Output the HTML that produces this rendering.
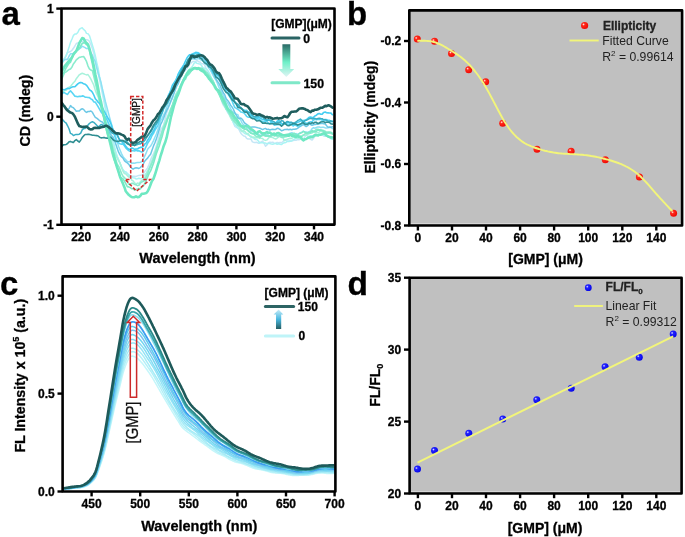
<!DOCTYPE html><html><head><meta charset="utf-8"><style>html,body{margin:0;padding:0;background:#fff;}svg{display:block;filter:blur(0.35px);}text{font-family:"Liberation Sans",sans-serif;stroke-width:0.3px;}</style></head><body>
<svg width="685" height="537" viewBox="0 0 685 537">
<defs>
<radialGradient id="rdot" cx="0.35" cy="0.35" r="0.65"><stop offset="0" stop-color="#ffe8e8"/><stop offset="0.3" stop-color="#ff2a1a"/><stop offset="1" stop-color="#ee0a05"/></radialGradient>
<radialGradient id="bdot" cx="0.35" cy="0.35" r="0.65"><stop offset="0" stop-color="#e8e8ff"/><stop offset="0.3" stop-color="#2222ff"/><stop offset="1" stop-color="#0808e8"/></radialGradient>
<linearGradient id="garrA" x1="0" y1="0" x2="0" y2="1"><stop offset="0" stop-color="#2a6a66"/><stop offset="0.55" stop-color="#6ff0c8"/><stop offset="1" stop-color="#e0f4f4"/></linearGradient>
<linearGradient id="garrC" x1="0" y1="1" x2="0" y2="0"><stop offset="0" stop-color="#245c60"/><stop offset="0.5" stop-color="#4ab8e0"/><stop offset="1" stop-color="#c8ecf8"/></linearGradient>
</defs>
<clipPath id="clipA"><rect x="61.5" y="8.5" width="273" height="216.1"/></clipPath>
<g clip-path="url(#clipA)" fill="none" stroke-linejoin="round" stroke-linecap="round">
<path d="M61.8 60.7 L63.3 59.3 L64.7 58.2 L66.2 55.8 L67.6 52.5 L69.1 52 L70.5 51.5 L72 50.2 L73.4 48.3 L74.9 46 L76.3 43.5 L77.8 42.9 L79.3 42.5 L80.7 41.6 L82.2 41.6 L83.6 41.2 L85.1 39.8 L86.5 39.7 L88 40 L89.4 41.3 L90.9 44.5 L92.4 48.8 L93.8 53.4 L95.3 58.8 L96.7 65.3 L98.2 72.9 L99.6 80.3 L101.1 87.2 L102.5 94.3 L104 101.9 L105.4 109.6 L106.9 117 L108.4 124 L109.8 130.3 L111.3 136.9 L112.7 142.3 L114.2 147.7 L115.6 152.2 L117.1 156.3 L118.5 159.7 L120 163.2 L121.5 167.3 L122.9 170 L124.4 171.6 L125.8 172.5 L127.3 174.8 L128.7 176.1 L130.2 177.1 L131.6 176.3 L133.1 176.2 L134.6 176.2 L136 176.5 L137.5 175.9 L138.9 175.4 L140.4 175.2 L141.8 175.1 L143.3 173.9 L144.7 171.5 L146.2 169.7 L147.6 167.9 L149.1 164.2 L150.6 159.9 L152 156.5 L153.5 153.8 L154.9 150.5 L156.4 145.6 L157.8 140.8 L159.3 135.1 L160.7 129.7 L162.2 127.5 L163.6 125.2 L165.1 119.1 L166.6 113.1 L168 109.4 L169.5 105.3 L170.9 101.3 L172.4 98.6 L173.8 94 L175.3 90 L176.7 86.5 L178.2 83.7 L179.7 79.8 L181.1 76.9 L182.6 73.6 L184 71.7 L185.5 70.1 L186.9 68.5 L188.4 66.4 L189.8 63.9 L191.3 62.8 L192.8 61.5 L194.2 61.5 L195.7 61.5 L197.1 60.4 L198.6 61.8 L200 62.1 L201.5 63.7 L202.9 63.7 L204.4 64.2 L205.8 67.9 L207.3 71.6 L208.8 73.6 L210.2 76.5 L211.7 78.7 L213.1 81.4 L214.6 84.6 L216 87.9 L217.5 89.7 L218.9 90.8 L220.4 95.8 L221.8 101.7 L223.3 105.2 L224.8 107.4 L226.2 109.3 L227.7 112.8 L229.1 114.3 L230.6 116.7 L232 118.1 L233.5 123.2 L234.9 126.5 L236.4 127.5 L237.9 127.7 L239.3 130.2 L240.8 133.2 L242.2 134.7 L243.7 136 L245.1 136.2 L246.6 138.3 L248 139 L249.5 139 L250.9 139 L252.4 141.9 L253.9 142.4 L255.3 142.6 L256.8 142.3 L258.2 143.2 L259.7 142.9 L261.1 142 L262.6 141.1 L264 143.1 L265.5 146.2 L267 144.9 L268.4 142.7 L269.9 142.3 L271.3 142.5 L272.8 142.2 L274.2 143.1 L275.7 143.5 L277.1 142.4 L278.6 142.7 L280.1 142.5 L281.5 142.8 L283 141.5 L284.4 139.9 L285.9 140.5 L287.3 141 L288.8 141.1 L290.2 140.5 L291.7 141.1 L293.1 140.4 L294.6 140.2 L296.1 140.2 L297.5 139.6 L299 139.8 L300.4 138.9 L301.9 139.6 L303.3 139.2 L304.8 136.9 L306.2 134.6 L307.7 136.4 L309.1 138.2 L310.6 139.3 L312.1 140.1 L313.5 138.2 L315 136.1 L316.4 135.6 L317.9 134.9 L319.3 135.1 L320.8 135.3 L322.2 134.9 L323.7 136 L325.2 136.3 L326.6 136.2 L328.1 137.2 L329.5 136.8 L331 137.5 L332.4 137" stroke="#c4e6f6" stroke-width="1.5"/>
<path d="M61.8 62.4 L63.3 61.7 L64.7 58.3 L66.2 55.2 L67.6 51.4 L69.1 47 L70.5 42.4 L72 39 L73.4 35.4 L74.9 34.1 L76.3 34 L77.8 32.5 L79.3 29.4 L80.7 28.4 L82.2 27.8 L83.6 29.4 L85.1 30.7 L86.5 33.4 L88 33.8 L89.4 35.6 L90.9 40.3 L92.4 45.3 L93.8 49.8 L95.3 55.7 L96.7 62.3 L98.2 68.6 L99.6 76.9 L101.1 84.1 L102.5 91.5 L104 98.8 L105.4 106.4 L106.9 115.6 L108.4 123.5 L109.8 129.4 L111.3 135.5 L112.7 139.9 L114.2 144.8 L115.6 151.1 L117.1 156.3 L118.5 159.4 L120 163.2 L121.5 166.6 L122.9 169.5 L124.4 171.6 L125.8 171.7 L127.3 173.2 L128.7 174.8 L130.2 175.5 L131.6 176.7 L133.1 177.8 L134.6 177.9 L136 178.9 L137.5 178.8 L138.9 178.3 L140.4 178.7 L141.8 178.5 L143.3 176.6 L144.7 175 L146.2 173.2 L147.6 171.1 L149.1 168.5 L150.6 165.2 L152 162 L153.5 159.2 L154.9 154.6 L156.4 149.4 L157.8 144.9 L159.3 141.9 L160.7 138.3 L162.2 133.1 L163.6 128.7 L165.1 124.5 L166.6 120.9 L168 117.5 L169.5 113.9 L170.9 111 L172.4 107.5 L173.8 102 L175.3 96.1 L176.7 92.5 L178.2 90.6 L179.7 87.7 L181.1 84 L182.6 81.1 L184 78 L185.5 75.5 L186.9 73.3 L188.4 70.7 L189.8 69.1 L191.3 67.9 L192.8 65.6 L194.2 63.1 L195.7 62.3 L197.1 63.4 L198.6 63.8 L200 63.9 L201.5 65.5 L202.9 67.8 L204.4 68.3 L205.8 68.8 L207.3 69.5 L208.8 72.1 L210.2 75.1 L211.7 78.8 L213.1 82.5 L214.6 84.4 L216 86.9 L217.5 89.8 L218.9 93.1 L220.4 95.9 L221.8 99.5 L223.3 102.9 L224.8 106.3 L226.2 109.6 L227.7 111.8 L229.1 114.2 L230.6 116.9 L232 119.7 L233.5 122.6 L234.9 124.8 L236.4 126 L237.9 128.2 L239.3 128.6 L240.8 129.5 L242.2 130.4 L243.7 132.7 L245.1 133.7 L246.6 134.1 L248 134.8 L249.5 135.7 L250.9 137.2 L252.4 137.6 L253.9 138.4 L255.3 139.6 L256.8 139.5 L258.2 140.8 L259.7 142.7 L261.1 142.7 L262.6 142.7 L264 143.1 L265.5 143.1 L267 143.8 L268.4 143.4 L269.9 143.6 L271.3 144 L272.8 144.2 L274.2 143.8 L275.7 143.2 L277.1 144.3 L278.6 143.7 L280.1 144.2 L281.5 144.6 L283 143.3 L284.4 142.7 L285.9 142.4 L287.3 141.4 L288.8 141.6 L290.2 141.2 L291.7 140.9 L293.1 139.8 L294.6 139 L296.1 138.1 L297.5 138.4 L299 138.3 L300.4 138.3 L301.9 138.9 L303.3 139 L304.8 138.9 L306.2 138.7 L307.7 137.2 L309.1 135.9 L310.6 135.8 L312.1 135.7 L313.5 135.7 L315 134.8 L316.4 134.2 L317.9 134.6 L319.3 134.3 L320.8 134.5 L322.2 133.8 L323.7 135.1 L325.2 136 L326.6 135.7 L328.1 136.5 L329.5 137.3 L331 138.7 L332.4 139.2" stroke="#a9f4f4" stroke-width="1.5"/>
<path d="M61.8 63 L63.3 60.5 L64.7 59.7 L66.2 59.2 L67.6 59.4 L69.1 56 L70.5 53.8 L72 53.8 L73.4 53.1 L74.9 51.7 L76.3 50.4 L77.8 50.1 L79.3 48.9 L80.7 47.9 L82.2 46.3 L83.6 46.9 L85.1 47.7 L86.5 48.6 L88 48.5 L89.4 49.4 L90.9 52.7 L92.4 55.1 L93.8 58.7 L95.3 61.9 L96.7 67.7 L98.2 73.4 L99.6 77.5 L101.1 82.6 L102.5 89.3 L104 95.5 L105.4 101.5 L106.9 107.2 L108.4 113 L109.8 118.1 L111.3 123.4 L112.7 127.9 L114.2 132.1 L115.6 136.4 L117.1 140.8 L118.5 146.2 L120 150 L121.5 153.6 L122.9 156.4 L124.4 158.4 L125.8 159.8 L127.3 161.6 L128.7 161.7 L130.2 161.6 L131.6 163.3 L133.1 163 L134.6 163.3 L136 162.8 L137.5 162.6 L138.9 162.4 L140.4 162.2 L141.8 161.6 L143.3 159.2 L144.7 156.1 L146.2 152.9 L147.6 149.2 L149.1 147.5 L150.6 146.1 L152 143.6 L153.5 140.6 L154.9 137.2 L156.4 134 L157.8 129.9 L159.3 125.2 L160.7 120.4 L162.2 118.4 L163.6 115.1 L165.1 112.1 L166.6 107.5 L168 103.9 L169.5 99.5 L170.9 96 L172.4 92.9 L173.8 89.5 L175.3 86.1 L176.7 83 L178.2 80.4 L179.7 76.6 L181.1 74.6 L182.6 71.8 L184 68.6 L185.5 66.5 L186.9 64.4 L188.4 62.3 L189.8 59.8 L191.3 59 L192.8 58.7 L194.2 58.8 L195.7 59.4 L197.1 58.8 L198.6 58.5 L200 59.5 L201.5 60 L202.9 60.9 L204.4 62.9 L205.8 63.9 L207.3 65.9 L208.8 68 L210.2 69.9 L211.7 72.7 L213.1 75.5 L214.6 78.1 L216 80.2 L217.5 83.5 L218.9 87.2 L220.4 90.1 L221.8 92.7 L223.3 95.4 L224.8 98.5 L226.2 100.9 L227.7 103.1 L229.1 105.7 L230.6 108.6 L232 111.1 L233.5 112.3 L234.9 113.6 L236.4 114.3 L237.9 114.8 L239.3 118.3 L240.8 120.1 L242.2 123.3 L243.7 124.9 L245.1 126.1 L246.6 127 L248 128.1 L249.5 129 L250.9 131 L252.4 130.8 L253.9 131.9 L255.3 132.9 L256.8 134.3 L258.2 133.9 L259.7 135.2 L261.1 135.3 L262.6 134.1 L264 134.7 L265.5 134.7 L267 135 L268.4 135.4 L269.9 135.9 L271.3 135.9 L272.8 135.2 L274.2 135 L275.7 135.1 L277.1 135.4 L278.6 136.5 L280.1 134.7 L281.5 134.2 L283 135 L284.4 135 L285.9 134.8 L287.3 134.7 L288.8 134 L290.2 133.1 L291.7 132.7 L293.1 133.3 L294.6 134.3 L296.1 133.6 L297.5 134.5 L299 133.7 L300.4 132.6 L301.9 132.1 L303.3 131 L304.8 132 L306.2 131.9 L307.7 132.4 L309.1 131.7 L310.6 130.8 L312.1 128.6 L313.5 127.7 L315 128.2 L316.4 127.5 L317.9 126.9 L319.3 127.1 L320.8 127.4 L322.2 127.3 L323.7 127.3 L325.2 127.9 L326.6 127.9 L328.1 127.8 L329.5 127.6 L331 127.3 L332.4 128.6" stroke="#8ee0f4" stroke-width="1.5"/>
<path d="M61.8 92.8 L63.3 91.7 L64.7 90.5 L66.2 90.2 L67.6 88.7 L69.1 87.1 L70.5 86.4 L72 84.6 L73.4 82.8 L74.9 81.3 L76.3 78.7 L77.8 76.8 L79.3 74.8 L80.7 74 L82.2 73.3 L83.6 73.7 L85.1 74.4 L86.5 74.9 L88 74.6 L89.4 76.6 L90.9 79.1 L92.4 82.3 L93.8 85.2 L95.3 90.4 L96.7 93.9 L98.2 96.9 L99.6 102.5 L101.1 108.5 L102.5 113.3 L104 117.1 L105.4 121 L106.9 125.8 L108.4 130.6 L109.8 135.1 L111.3 140.7 L112.7 145.8 L114.2 150.3 L115.6 155.2 L117.1 157.8 L118.5 160.8 L120 162.7 L121.5 167.2 L122.9 171 L124.4 173.5 L125.8 173.9 L127.3 175.6 L128.7 176.9 L130.2 177.2 L131.6 180 L133.1 180.9 L134.6 182.9 L136 184.2 L137.5 183 L138.9 183.7 L140.4 181.8 L141.8 180.4 L143.3 179.3 L144.7 177.8 L146.2 173.9 L147.6 170.9 L149.1 168.1 L150.6 164.6 L152 160.2 L153.5 156.5 L154.9 152.1 L156.4 148.5 L157.8 145.1 L159.3 141.6 L160.7 137 L162.2 130.8 L163.6 125.8 L165.1 121.7 L166.6 119.2 L168 115.3 L169.5 111.6 L170.9 108.6 L172.4 105.4 L173.8 100.7 L175.3 96.2 L176.7 92.8 L178.2 90.8 L179.7 87.5 L181.1 85.1 L182.6 81.9 L184 79.6 L185.5 75.5 L186.9 73.5 L188.4 71.1 L189.8 69.3 L191.3 68 L192.8 67.9 L194.2 67.8 L195.7 68.1 L197.1 69.2 L198.6 68.4 L200 68.4 L201.5 68.3 L202.9 69.7 L204.4 70.4 L205.8 71.8 L207.3 74.1 L208.8 74.5 L210.2 76.7 L211.7 79 L213.1 80.8 L214.6 85.1 L216 88.4 L217.5 91.2 L218.9 92.5 L220.4 95.6 L221.8 98.5 L223.3 102.6 L224.8 105 L226.2 109.1 L227.7 110.8 L229.1 114.2 L230.6 117.6 L232 120 L233.5 120.9 L234.9 121.7 L236.4 122.8 L237.9 124.2 L239.3 127.4 L240.8 130.3 L242.2 131.7 L243.7 130.7 L245.1 131.7 L246.6 133.6 L248 133.5 L249.5 135.6 L250.9 136.1 L252.4 137.2 L253.9 137.1 L255.3 138 L256.8 137.6 L258.2 137.8 L259.7 137.9 L261.1 138.3 L262.6 138.4 L264 139.9 L265.5 140.4 L267 139.9 L268.4 138.2 L269.9 137.2 L271.3 137.3 L272.8 137.6 L274.2 138.4 L275.7 139.1 L277.1 138.2 L278.6 136.9 L280.1 136.4 L281.5 136.1 L283 137.9 L284.4 140.6 L285.9 139.6 L287.3 139.2 L288.8 138.7 L290.2 138.2 L291.7 138.6 L293.1 137 L294.6 137.4 L296.1 137.6 L297.5 138.1 L299 138.2 L300.4 138.4 L301.9 137 L303.3 134.7 L304.8 135.2 L306.2 135.3 L307.7 134.1 L309.1 133.5 L310.6 131.7 L312.1 130.4 L313.5 131 L315 132.3 L316.4 132.6 L317.9 132.6 L319.3 132.1 L320.8 131 L322.2 131.5 L323.7 132 L325.2 132.9 L326.6 132.9 L328.1 132.7 L329.5 133.3 L331 133.6 L332.4 133.3" stroke="#a8f2dc" stroke-width="1.5"/>
<path d="M61.8 104.7 L63.3 105.8 L64.7 106.8 L66.2 108.1 L67.6 110.3 L69.1 108.5 L70.5 105.6 L72 107.1 L73.4 107.7 L74.9 109.4 L76.3 111.2 L77.8 111.1 L79.3 111 L80.7 109.5 L82.2 108.8 L83.6 109.4 L85.1 111.4 L86.5 112.4 L88 111.5 L89.4 111.5 L90.9 111 L92.4 112.3 L93.8 114.9 L95.3 117.3 L96.7 118.2 L98.2 119.3 L99.6 120.7 L101.1 121.5 L102.5 122.2 L104 124.2 L105.4 126.6 L106.9 127.7 L108.4 130.6 L109.8 133.2 L111.3 135.7 L112.7 136.6 L114.2 139.5 L115.6 143.6 L117.1 148 L118.5 151.9 L120 154.9 L121.5 156.8 L122.9 158 L124.4 160.6 L125.8 161.9 L127.3 162.9 L128.7 164.2 L130.2 166.6 L131.6 168.1 L133.1 169.2 L134.6 168.2 L136 167.8 L137.5 168 L138.9 168.5 L140.4 167.5 L141.8 166 L143.3 164 L144.7 161.2 L146.2 159.5 L147.6 158.1 L149.1 155.9 L150.6 154.2 L152 150.3 L153.5 145.9 L154.9 142.7 L156.4 138.9 L157.8 134.4 L159.3 129.3 L160.7 124.3 L162.2 121.3 L163.6 118.3 L165.1 114 L166.6 110.6 L168 107.8 L169.5 104.6 L170.9 100.9 L172.4 97.4 L173.8 93.6 L175.3 89.1 L176.7 85.8 L178.2 83.5 L179.7 79.7 L181.1 75.4 L182.6 71.8 L184 70.8 L185.5 67.7 L186.9 64.3 L188.4 61.5 L189.8 59.7 L191.3 59 L192.8 58 L194.2 58.7 L195.7 57.3 L197.1 56.8 L198.6 56.4 L200 57.3 L201.5 57.4 L202.9 58.8 L204.4 59.3 L205.8 62.2 L207.3 64.5 L208.8 65.2 L210.2 66.9 L211.7 69.6 L213.1 73.2 L214.6 76.4 L216 79.2 L217.5 81.4 L218.9 83.3 L220.4 86.2 L221.8 89.6 L223.3 92.8 L224.8 94.9 L226.2 98.7 L227.7 100.4 L229.1 102.4 L230.6 105.2 L232 106.9 L233.5 109.5 L234.9 112.7 L236.4 115.4 L237.9 117.9 L239.3 118.6 L240.8 118 L242.2 119.2 L243.7 121.7 L245.1 123.5 L246.6 124.4 L248 125.7 L249.5 127 L250.9 127.2 L252.4 127.1 L253.9 127 L255.3 127.1 L256.8 127.5 L258.2 127.9 L259.7 128.3 L261.1 128.8 L262.6 129.6 L264 128.9 L265.5 128.4 L267 129.6 L268.4 129.3 L269.9 130 L271.3 129.5 L272.8 129.2 L274.2 129.4 L275.7 129.4 L277.1 128.3 L278.6 128.6 L280.1 129.5 L281.5 130.7 L283 130.2 L284.4 129.6 L285.9 129.6 L287.3 129.3 L288.8 129.7 L290.2 129.3 L291.7 129.7 L293.1 129.3 L294.6 129.3 L296.1 129.1 L297.5 128.3 L299 127.2 L300.4 126.4 L301.9 125.4 L303.3 124.5 L304.8 125.6 L306.2 126.6 L307.7 125.7 L309.1 124.1 L310.6 124.5 L312.1 125.2 L313.5 124.8 L315 124.4 L316.4 124.2 L317.9 123.5 L319.3 123.7 L320.8 123.4 L322.2 123.2 L323.7 123.7 L325.2 123.9 L326.6 125.8 L328.1 127.2 L329.5 127 L331 127.2 L332.4 126.8" stroke="#6cc8e6" stroke-width="1.5"/>
<path d="M61.8 78.8 L63.3 75.5 L64.7 72.6 L66.2 71.9 L67.6 70.7 L69.1 69.5 L70.5 68.9 L72 67 L73.4 63.9 L74.9 62 L76.3 59.9 L77.8 58.6 L79.3 57.3 L80.7 57.1 L82.2 56.7 L83.6 56.5 L85.1 58.8 L86.5 61.4 L88 66.1 L89.4 68.9 L90.9 70.1 L92.4 70.7 L93.8 76.2 L95.3 82.8 L96.7 88.7 L98.2 95.1 L99.6 101.3 L101.1 107.5 L102.5 112.3 L104 117.9 L105.4 123.6 L106.9 128.3 L108.4 134.1 L109.8 140.4 L111.3 146.4 L112.7 150.5 L114.2 154.1 L115.6 159.1 L117.1 164 L118.5 166.2 L120 169.5 L121.5 173.4 L122.9 176.1 L124.4 177.6 L125.8 179 L127.3 181 L128.7 184.1 L130.2 184.8 L131.6 183.4 L133.1 183.3 L134.6 184.5 L136 184.8 L137.5 185.6 L138.9 185.2 L140.4 183.2 L141.8 182 L143.3 181.2 L144.7 180.4 L146.2 176.9 L147.6 173.7 L149.1 169.4 L150.6 166 L152 163.1 L153.5 158.9 L154.9 154.5 L156.4 149.3 L157.8 144.4 L159.3 140.1 L160.7 135.8 L162.2 131.1 L163.6 127.5 L165.1 124.1 L166.6 120.8 L168 117 L169.5 113.2 L170.9 109.1 L172.4 105.6 L173.8 102.2 L175.3 97.8 L176.7 95.3 L178.2 92 L179.7 89.6 L181.1 85.1 L182.6 81.9 L184 80.3 L185.5 79.1 L186.9 75.8 L188.4 73.4 L189.8 71.5 L191.3 69.6 L192.8 68.6 L194.2 68.7 L195.7 69 L197.1 69 L198.6 69.1 L200 68.1 L201.5 68.2 L202.9 69.4 L204.4 70.5 L205.8 71.8 L207.3 72.9 L208.8 75.2 L210.2 76.9 L211.7 79.7 L213.1 81.3 L214.6 85.3 L216 88.2 L217.5 91.4 L218.9 94 L220.4 96.8 L221.8 99.8 L223.3 103.6 L224.8 106 L226.2 109.1 L227.7 110.6 L229.1 113.1 L230.6 115.7 L232 118.5 L233.5 120.2 L234.9 122.3 L236.4 123.8 L237.9 125.7 L239.3 125.6 L240.8 126.2 L242.2 127.2 L243.7 128.8 L245.1 129.1 L246.6 129.6 L248 130.6 L249.5 132.2 L250.9 132.8 L252.4 133.4 L253.9 133.7 L255.3 135.8 L256.8 136.6 L258.2 136.4 L259.7 137.8 L261.1 135.9 L262.6 134.8 L264 135.5 L265.5 136.2 L267 136.3 L268.4 136.3 L269.9 135.7 L271.3 135.9 L272.8 134.7 L274.2 135.3 L275.7 135.1 L277.1 135.9 L278.6 135.4 L280.1 136.5 L281.5 137.4 L283 137.2 L284.4 136.9 L285.9 136.8 L287.3 136.2 L288.8 135.8 L290.2 135.2 L291.7 134.7 L293.1 134.8 L294.6 135.1 L296.1 134.9 L297.5 135.4 L299 136 L300.4 136.6 L301.9 135.9 L303.3 135.3 L304.8 134 L306.2 133.1 L307.7 133.4 L309.1 133.6 L310.6 133.2 L312.1 132.8 L313.5 131.7 L315 130.5 L316.4 129.4 L317.9 129.4 L319.3 129.7 L320.8 130 L322.2 130.2 L323.7 130.6 L325.2 131.3 L326.6 132.9 L328.1 133.2 L329.5 132.9 L331 132.8 L332.4 133.5" stroke="#8aecce" stroke-width="1.6"/>
<path d="M61.8 73.7 L63.3 73.2 L64.7 71 L66.2 67.7 L67.6 65.5 L69.1 63.3 L70.5 62.1 L72 58.4 L73.4 55.4 L74.9 52.5 L76.3 50.8 L77.8 49.8 L79.3 48.5 L80.7 46 L82.2 43.5 L83.6 42.8 L85.1 43.2 L86.5 44.7 L88 45.3 L89.4 50.4 L90.9 57.6 L92.4 64 L93.8 71 L95.3 78.3 L96.7 84.8 L98.2 92.1 L99.6 97.4 L101.1 103.1 L102.5 111 L104 117.9 L105.4 125.7 L106.9 132.3 L108.4 137.8 L109.8 143.7 L111.3 150 L112.7 155.5 L114.2 160.2 L115.6 163.8 L117.1 166.9 L118.5 171.9 L120 176.8 L121.5 178.1 L122.9 178.7 L124.4 181 L125.8 183.6 L127.3 186.6 L128.7 186.9 L130.2 187.6 L131.6 188.7 L133.1 188.5 L134.6 190.1 L136 189.6 L137.5 189.1 L138.9 188.4 L140.4 188.9 L141.8 187 L143.3 186 L144.7 183.6 L146.2 180.2 L147.6 177.1 L149.1 173.4 L150.6 170.9 L152 167.1 L153.5 163.2 L154.9 158.5 L156.4 153.4 L157.8 149.7 L159.3 145.8 L160.7 140.8 L162.2 136.3 L163.6 130.6 L165.1 126.8 L166.6 122.5 L168 118 L169.5 114.9 L170.9 110.1 L172.4 105.6 L173.8 101.2 L175.3 97.2 L176.7 94.2 L178.2 91.8 L179.7 88.1 L181.1 84.4 L182.6 81.9 L184 78.6 L185.5 76.4 L186.9 75.3 L188.4 74.7 L189.8 73 L191.3 70.7 L192.8 69.1 L194.2 68.4 L195.7 67.9 L197.1 68.4 L198.6 68.8 L200 68.7 L201.5 69.1 L202.9 69.1 L204.4 71.1 L205.8 74.1 L207.3 76.8 L208.8 77.7 L210.2 79.1 L211.7 82 L213.1 84.6 L214.6 85.6 L216 87.8 L217.5 90.8 L218.9 93.2 L220.4 97.1 L221.8 100.4 L223.3 102.7 L224.8 103.8 L226.2 106.4 L227.7 110 L229.1 111.5 L230.6 114 L232 115.9 L233.5 118.1 L234.9 119.9 L236.4 121.3 L237.9 123.4 L239.3 124.5 L240.8 126.8 L242.2 128 L243.7 128.6 L245.1 129.3 L246.6 128.9 L248 130.5 L249.5 131.6 L250.9 133.3 L252.4 133.7 L253.9 133.9 L255.3 133.6 L256.8 133.6 L258.2 135.3 L259.7 136.1 L261.1 135.9 L262.6 135.5 L264 135 L265.5 135.4 L267 135.6 L268.4 136.1 L269.9 136.1 L271.3 135.3 L272.8 134.7 L274.2 136 L275.7 135.8 L277.1 135.6 L278.6 135.2 L280.1 134.4 L281.5 134.7 L283 134.7 L284.4 134.9 L285.9 135 L287.3 134.2 L288.8 134.4 L290.2 133.7 L291.7 134.3 L293.1 133.5 L294.6 133.4 L296.1 135 L297.5 135 L299 133.8 L300.4 133.3 L301.9 132.6 L303.3 131.6 L304.8 132.1 L306.2 133.1 L307.7 132.7 L309.1 132.2 L310.6 132.2 L312.1 130.8 L313.5 131.6 L315 131.6 L316.4 131.2 L317.9 130 L319.3 130.4 L320.8 130.1 L322.2 130.6 L323.7 131.4 L325.2 132.4 L326.6 132.3 L328.1 132 L329.5 132.1 L331 132.3 L332.4 134.2" stroke="#7eeac8" stroke-width="1.6"/>
<path d="M61.8 93.9 L63.3 92.6 L64.7 92.8 L66.2 93.8 L67.6 94.4 L69.1 92.1 L70.5 90.9 L72 92.5 L73.4 94.3 L74.9 96.3 L76.3 96.4 L77.8 96.8 L79.3 96.3 L80.7 96.4 L82.2 95.9 L83.6 96.1 L85.1 97.2 L86.5 97.3 L88 97.5 L89.4 97.6 L90.9 98.9 L92.4 99.8 L93.8 101.9 L95.3 102.1 L96.7 104.4 L98.2 106.9 L99.6 109.4 L101.1 112 L102.5 113.9 L104 115.8 L105.4 117.1 L106.9 119.8 L108.4 123.2 L109.8 126 L111.3 129.2 L112.7 132.1 L114.2 134.5 L115.6 138.6 L117.1 142.1 L118.5 142.9 L120 143.8 L121.5 144.1 L122.9 143.9 L124.4 145.8 L125.8 147.9 L127.3 149.4 L128.7 150.6 L130.2 151.3 L131.6 150.6 L133.1 150.8 L134.6 151 L136 150.3 L137.5 150.9 L138.9 150.6 L140.4 151.6 L141.8 152.1 L143.3 151.4 L144.7 149.5 L146.2 146.4 L147.6 143.3 L149.1 141 L150.6 138.8 L152 135.5 L153.5 133.3 L154.9 130.2 L156.4 127.9 L157.8 125.6 L159.3 121.3 L160.7 117 L162.2 112.9 L163.6 108.4 L165.1 106 L166.6 103.1 L168 99 L169.5 94.3 L170.9 91.8 L172.4 89.2 L173.8 86.7 L175.3 83.6 L176.7 79.7 L178.2 74.5 L179.7 71.5 L181.1 69.2 L182.6 67.7 L184 66.6 L185.5 65 L186.9 62 L188.4 59.2 L189.8 57.1 L191.3 54.3 L192.8 54.8 L194.2 54.3 L195.7 53.4 L197.1 52.5 L198.6 52.8 L200 54.2 L201.5 55.3 L202.9 56.2 L204.4 58.2 L205.8 61.1 L207.3 63.3 L208.8 65.9 L210.2 67.3 L211.7 69.6 L213.1 69.9 L214.6 73.2 L216 75.4 L217.5 77.4 L218.9 79.5 L220.4 81.3 L221.8 83.6 L223.3 86.7 L224.8 87.8 L226.2 90.6 L227.7 93.6 L229.1 95.8 L230.6 98.2 L232 100.8 L233.5 104.6 L234.9 107.6 L236.4 108.3 L237.9 109.3 L239.3 110.3 L240.8 112 L242.2 112.3 L243.7 112.8 L245.1 114.2 L246.6 116.3 L248 117.2 L249.5 117.3 L250.9 117.2 L252.4 117.5 L253.9 118.3 L255.3 118.6 L256.8 118.4 L258.2 119.4 L259.7 119.6 L261.1 121 L262.6 121.7 L264 121.3 L265.5 120.9 L267 121.6 L268.4 123.3 L269.9 124 L271.3 121.9 L272.8 122.9 L274.2 125.2 L275.7 125 L277.1 124.8 L278.6 124.7 L280.1 124.2 L281.5 123.5 L283 124.3 L284.4 123.1 L285.9 123.7 L287.3 124 L288.8 124.6 L290.2 124.7 L291.7 124.2 L293.1 126 L294.6 124.9 L296.1 125.4 L297.5 126.4 L299 125.7 L300.4 124.9 L301.9 122.6 L303.3 121 L304.8 122.5 L306.2 123.5 L307.7 123.1 L309.1 122.2 L310.6 121.7 L312.1 121.8 L313.5 120.1 L315 119.2 L316.4 119.7 L317.9 119.2 L319.3 119.4 L320.8 119.4 L322.2 120.2 L323.7 119.8 L325.2 120.8 L326.6 119.6 L328.1 120.2 L329.5 120.3 L331 121.9 L332.4 121.2" stroke="#5ad6f4" stroke-width="1.6"/>
<path d="M61.8 89.3 L63.3 89.6 L64.7 89.8 L66.2 88.9 L67.6 88.2 L69.1 88.7 L70.5 87.9 L72 87.1 L73.4 86.7 L74.9 86.8 L76.3 85.4 L77.8 83.9 L79.3 82.8 L80.7 82.4 L82.2 82.8 L83.6 83.8 L85.1 84.2 L86.5 85.3 L88 87.4 L89.4 89.7 L90.9 90.6 L92.4 92.3 L93.8 95 L95.3 98.7 L96.7 100.2 L98.2 102.3 L99.6 103.4 L101.1 105.8 L102.5 107.9 L104 110.9 L105.4 113.3 L106.9 116.5 L108.4 118.7 L109.8 121.1 L111.3 124.7 L112.7 129.3 L114.2 131.5 L115.6 133.4 L117.1 134.8 L118.5 137.7 L120 140.7 L121.5 141.4 L122.9 142.6 L124.4 144.1 L125.8 146.4 L127.3 148 L128.7 149.2 L130.2 149.1 L131.6 148.1 L133.1 148.3 L134.6 149.3 L136 149 L137.5 148.9 L138.9 148 L140.4 147.4 L141.8 147.4 L143.3 146.3 L144.7 144.2 L146.2 143 L147.6 140.2 L149.1 137.9 L150.6 135.2 L152 133.2 L153.5 130.9 L154.9 128.1 L156.4 123.8 L157.8 120.4 L159.3 115.9 L160.7 111.8 L162.2 109.8 L163.6 107 L165.1 103.5 L166.6 100.2 L168 96.2 L169.5 93.1 L170.9 89.7 L172.4 85.3 L173.8 83.2 L175.3 81 L176.7 78 L178.2 74.2 L179.7 71.3 L181.1 69 L182.6 66.6 L184 64.3 L185.5 61 L186.9 58 L188.4 55.9 L189.8 54.7 L191.3 55 L192.8 53.8 L194.2 53.1 L195.7 52.4 L197.1 52.7 L198.6 53.9 L200 54.9 L201.5 55.2 L202.9 56.8 L204.4 57.4 L205.8 59.7 L207.3 61 L208.8 64.3 L210.2 66.4 L211.7 69.9 L213.1 73 L214.6 72.9 L216 73.8 L217.5 74.4 L218.9 75.9 L220.4 78.1 L221.8 82.5 L223.3 84.2 L224.8 86.1 L226.2 88.1 L227.7 90.1 L229.1 92.1 L230.6 95.5 L232 98 L233.5 100.3 L234.9 101.9 L236.4 103.9 L237.9 106.1 L239.3 107.2 L240.8 107.6 L242.2 108.8 L243.7 110 L245.1 110.6 L246.6 110.2 L248 111.9 L249.5 113.6 L250.9 115.9 L252.4 115.9 L253.9 116.6 L255.3 117.2 L256.8 118.8 L258.2 117.6 L259.7 117.9 L261.1 118.6 L262.6 119.6 L264 119.3 L265.5 120.2 L267 119.9 L268.4 120 L269.9 120.5 L271.3 121.9 L272.8 123 L274.2 123.4 L275.7 123.1 L277.1 121.2 L278.6 120.5 L280.1 121.3 L281.5 123.6 L283 124.1 L284.4 124.1 L285.9 123.4 L287.3 121.9 L288.8 122.5 L290.2 123.7 L291.7 124.3 L293.1 124.4 L294.6 124.2 L296.1 122.9 L297.5 122.4 L299 121.7 L300.4 121 L301.9 120.5 L303.3 120.5 L304.8 120.2 L306.2 119.9 L307.7 118.7 L309.1 117.4 L310.6 117.1 L312.1 117.6 L313.5 117.3 L315 115.9 L316.4 115.2 L317.9 113.9 L319.3 113.6 L320.8 114.2 L322.2 114.1 L323.7 112.4 L325.2 112 L326.6 112.8 L328.1 112.9 L329.5 113 L331 113.1 L332.4 114.7" stroke="#45cef2" stroke-width="1.6"/>
<path d="M61.8 119.1 L63.3 120.4 L64.7 122 L66.2 123.2 L67.6 125.8 L69.1 129 L70.5 133.4 L72 134.1 L73.4 135.6 L74.9 134.8 L76.3 134.4 L77.8 134.4 L79.3 134.2 L80.7 133.1 L82.2 129.9 L83.6 128.6 L85.1 128.5 L86.5 127.3 L88 125.1 L89.4 123.5 L90.9 122.4 L92.4 121.8 L93.8 122.4 L95.3 123.8 L96.7 125.3 L98.2 127 L99.6 125.9 L101.1 124.5 L102.5 125 L104 126.3 L105.4 126.6 L106.9 126.5 L108.4 128.1 L109.8 130.1 L111.3 132.4 L112.7 133.5 L114.2 133.4 L115.6 134.1 L117.1 134.2 L118.5 137.8 L120 140.3 L121.5 140.2 L122.9 140.8 L124.4 141.7 L125.8 140.8 L127.3 142 L128.7 143.9 L130.2 144.2 L131.6 144.5 L133.1 145 L134.6 145.5 L136 145.1 L137.5 144.6 L138.9 143.8 L140.4 143.9 L141.8 143.1 L143.3 141.6 L144.7 140.6 L146.2 138.1 L147.6 135.8 L149.1 133.8 L150.6 132 L152 130 L153.5 127 L154.9 124.7 L156.4 123.9 L157.8 121.8 L159.3 118.4 L160.7 115.5 L162.2 112.3 L163.6 108.7 L165.1 106.3 L166.6 103.9 L168 101.8 L169.5 98.7 L170.9 95 L172.4 92.3 L173.8 88 L175.3 85.4 L176.7 82.6 L178.2 78 L179.7 75 L181.1 71.5 L182.6 68.2 L184 67 L185.5 65.8 L186.9 63.2 L188.4 60.5 L189.8 58.2 L191.3 56.4 L192.8 56.3 L194.2 55.5 L195.7 55.7 L197.1 55.3 L198.6 54.5 L200 54.4 L201.5 54.8 L202.9 56.6 L204.4 58 L205.8 59 L207.3 61 L208.8 62.7 L210.2 65.6 L211.7 66.6 L213.1 67.4 L214.6 71 L216 73.4 L217.5 74.6 L218.9 75.3 L220.4 78.9 L221.8 81.7 L223.3 84.3 L224.8 86.5 L226.2 89.2 L227.7 90 L229.1 91.6 L230.6 92.6 L232 94.6 L233.5 98.7 L234.9 102.8 L236.4 103.3 L237.9 104.1 L239.3 105.8 L240.8 108.6 L242.2 109.3 L243.7 110.8 L245.1 111.7 L246.6 111.7 L248 112.3 L249.5 112.2 L250.9 113 L252.4 115.4 L253.9 116.8 L255.3 116.7 L256.8 116.8 L258.2 116.3 L259.7 115.8 L261.1 117 L262.6 117 L264 118.6 L265.5 119.4 L267 120.4 L268.4 120 L269.9 120 L271.3 120.4 L272.8 121.2 L274.2 121.9 L275.7 123.1 L277.1 122.8 L278.6 122.3 L280.1 122.4 L281.5 120.6 L283 121 L284.4 123.1 L285.9 122.4 L287.3 121.5 L288.8 122 L290.2 122.2 L291.7 122.3 L293.1 123.1 L294.6 122.6 L296.1 122 L297.5 120.7 L299 119.9 L300.4 119.1 L301.9 120.5 L303.3 122.4 L304.8 120.7 L306.2 120.3 L307.7 119.5 L309.1 118.8 L310.6 118.4 L312.1 118.9 L313.5 118.6 L315 118.4 L316.4 118.9 L317.9 118.6 L319.3 118.3 L320.8 118.6 L322.2 118.7 L323.7 119.8 L325.2 119.4 L326.6 120.3 L328.1 121.1 L329.5 121.5 L331 120.8 L332.4 121.7" stroke="#3aaec4" stroke-width="1.5"/>
<path d="M61.8 146.4 L63.3 144.9 L64.7 144.8 L66.2 144.4 L67.6 143.5 L69.1 141.8 L70.5 141.4 L72 142.1 L73.4 142.4 L74.9 140.6 L76.3 139.6 L77.8 141 L79.3 142.1 L80.7 140.1 L82.2 137.6 L83.6 135.9 L85.1 134.5 L86.5 134.5 L88 134.4 L89.4 134.4 L90.9 134.8 L92.4 135.2 L93.8 135.2 L95.3 135.5 L96.7 135.6 L98.2 136 L99.6 137.2 L101.1 137.9 L102.5 137.8 L104 137.4 L105.4 138 L106.9 138.1 L108.4 138.2 L109.8 136.9 L111.3 137.7 L112.7 139.3 L114.2 140.6 L115.6 141 L117.1 141.3 L118.5 141.2 L120 140.7 L121.5 140.7 L122.9 140.5 L124.4 141.5 L125.8 142.4 L127.3 143.7 L128.7 144.3 L130.2 145.3 L131.6 144.9 L133.1 144.8 L134.6 145.5 L136 144.1 L137.5 143 L138.9 142.3 L140.4 141.4 L141.8 142.1 L143.3 139.7 L144.7 137.8 L146.2 137.2 L147.6 135.6 L149.1 133.4 L150.6 130.8 L152 128.4 L153.5 125.1 L154.9 123.1 L156.4 121.4 L157.8 119.5 L159.3 115.5 L160.7 111.3 L162.2 109.5 L163.6 107.3 L165.1 105 L166.6 103.5 L168 98.9 L169.5 96.6 L170.9 93.3 L172.4 89.4 L173.8 86.3 L175.3 83.8 L176.7 81.6 L178.2 78.9 L179.7 75.5 L181.1 72.6 L182.6 70.8 L184 68.6 L185.5 68 L186.9 62.9 L188.4 59.2 L189.8 58.6 L191.3 58.3 L192.8 56.8 L194.2 56 L195.7 55.6 L197.1 55.1 L198.6 55.4 L200 58.1 L201.5 58.8 L202.9 60.8 L204.4 62.6 L205.8 63.5 L207.3 64.4 L208.8 66.7 L210.2 67 L211.7 68.4 L213.1 70.6 L214.6 74 L216 77.3 L217.5 78 L218.9 79.2 L220.4 81.7 L221.8 84.9 L223.3 88.5 L224.8 90.6 L226.2 92.5 L227.7 92.9 L229.1 94.8 L230.6 97.4 L232 99.7 L233.5 100.8 L234.9 102.3 L236.4 104.3 L237.9 107.4 L239.3 107.7 L240.8 107.9 L242.2 109.2 L243.7 111.3 L245.1 112.3 L246.6 112 L248 113.7 L249.5 116.2 L250.9 117.8 L252.4 118.6 L253.9 118.7 L255.3 119.6 L256.8 121 L258.2 120.7 L259.7 120.6 L261.1 121.6 L262.6 123.1 L264 123.1 L265.5 122.9 L267 123.5 L268.4 123.5 L269.9 123.7 L271.3 123.8 L272.8 123.8 L274.2 124 L275.7 124 L277.1 124.1 L278.6 124.1 L280.1 124.7 L281.5 126.2 L283 124.8 L284.4 122.7 L285.9 124.2 L287.3 125.5 L288.8 125.8 L290.2 125 L291.7 124.4 L293.1 123.5 L294.6 123.7 L296.1 124.2 L297.5 125.2 L299 124.6 L300.4 124.1 L301.9 123.2 L303.3 122.8 L304.8 124.1 L306.2 124.4 L307.7 124.1 L309.1 123 L310.6 123.6 L312.1 122.7 L313.5 123.3 L315 122.2 L316.4 122.4 L317.9 123.8 L319.3 123 L320.8 122 L322.2 121.8 L323.7 121.7 L325.2 122.8 L326.6 122.1 L328.1 122.3 L329.5 122.5 L331 123.8 L332.4 124.1" stroke="#2f8e92" stroke-width="1.6"/>
<path d="M61.8 71.3 L63.3 68.9 L64.7 66.1 L66.2 64.3 L67.6 62.6 L69.1 60.9 L70.5 59.2 L72 57.2 L73.4 54.3 L74.9 52.6 L76.3 51.1 L77.8 47.2 L79.3 43.2 L80.7 40.6 L82.2 38.1 L83.6 38.4 L85.1 41.4 L86.5 43 L88 44.5 L89.4 48.5 L90.9 54.5 L92.4 59.7 L93.8 65.8 L95.3 74.2 L96.7 80.5 L98.2 88.8 L99.6 96.7 L101.1 102.4 L102.5 109.5 L104 116.9 L105.4 122.6 L106.9 129.6 L108.4 135.3 L109.8 139.8 L111.3 145.1 L112.7 151.8 L114.2 157.5 L115.6 162.5 L117.1 167.6 L118.5 171.6 L120 176.7 L121.5 180.3 L122.9 183.6 L124.4 187.2 L125.8 191.3 L127.3 193.2 L128.7 194.8 L130.2 196.1 L131.6 196.9 L133.1 197.3 L134.6 197.1 L136 196.3 L137.5 197.2 L138.9 197 L140.4 195.7 L141.8 193.8 L143.3 193.7 L144.7 193.4 L146.2 193.1 L147.6 191.5 L149.1 188.4 L150.6 184.5 L152 180.9 L153.5 178.7 L154.9 174.8 L156.4 170 L157.8 165.2 L159.3 160.6 L160.7 155.5 L162.2 151 L163.6 146.2 L165.1 142.6 L166.6 137.7 L168 131.3 L169.5 124.1 L170.9 117.2 L172.4 111.7 L173.8 106.1 L175.3 101.7 L176.7 97.3 L178.2 94.4 L179.7 90 L181.1 85.9 L182.6 82.4 L184 79.4 L185.5 76.9 L186.9 73.8 L188.4 71.4 L189.8 70 L191.3 70.1 L192.8 69.1 L194.2 68 L195.7 68 L197.1 69 L198.6 68.1 L200 69.7 L201.5 70.7 L202.9 71.2 L204.4 72.6 L205.8 74.5 L207.3 75.7 L208.8 78.5 L210.2 79.9 L211.7 82 L213.1 83.2 L214.6 86.3 L216 89 L217.5 89.8 L218.9 90.8 L220.4 93.4 L221.8 96.7 L223.3 99.2 L224.8 102.1 L226.2 105.2 L227.7 108.5 L229.1 110.1 L230.6 111.5 L232 112.7 L233.5 115.4 L234.9 117.4 L236.4 118.7 L237.9 121.3 L239.3 123.5 L240.8 125.8 L242.2 126 L243.7 127 L245.1 126.3 L246.6 126.2 L248 125.9 L249.5 127.5 L250.9 129.1 L252.4 129.8 L253.9 131 L255.3 132.4 L256.8 133.6 L258.2 131.7 L259.7 131.2 L261.1 132.6 L262.6 133.5 L264 133.2 L265.5 132.9 L267 132.1 L268.4 133.1 L269.9 132.6 L271.3 133.8 L272.8 134 L274.2 133.6 L275.7 134.5 L277.1 133.3 L278.6 133 L280.1 133.9 L281.5 134.9 L283 135.1 L284.4 135.2 L285.9 135.1 L287.3 135.2 L288.8 135.7 L290.2 134.6 L291.7 135.6 L293.1 135.6 L294.6 136.4 L296.1 136.9 L297.5 136 L299 136.8 L300.4 136.7 L301.9 139.1 L303.3 140.3 L304.8 139.3 L306.2 139 L307.7 138 L309.1 137.4 L310.6 137.1 L312.1 137.1 L313.5 136.3 L315 134.9 L316.4 135.1 L317.9 135.5 L319.3 134.7 L320.8 134.7 L322.2 134 L323.7 133.4 L325.2 134 L326.6 135.5 L328.1 136.5 L329.5 136.9 L331 137.4 L332.4 137.5" stroke="#6ee8c2" stroke-width="2.6"/>
<path d="M61.8 102.9 L63.3 105.1 L64.7 106.7 L66.2 109 L67.6 110.5 L69.1 111.6 L70.5 112.6 L72 112.9 L73.4 114.4 L74.9 116.7 L76.3 120 L77.8 123.5 L79.3 126.1 L80.7 126.5 L82.2 127 L83.6 126.9 L85.1 126.8 L86.5 126.5 L88 127.7 L89.4 129 L90.9 129.4 L92.4 129.3 L93.8 128.1 L95.3 127.7 L96.7 128 L98.2 127.9 L99.6 127.9 L101.1 127.3 L102.5 126.9 L104 126.7 L105.4 125.7 L106.9 125.8 L108.4 126.8 L109.8 128 L111.3 129 L112.7 130.8 L114.2 131.9 L115.6 133 L117.1 133.4 L118.5 133.4 L120 133.8 L121.5 134.6 L122.9 135.1 L124.4 136.1 L125.8 138.5 L127.3 139.7 L128.7 138.7 L130.2 140.5 L131.6 142.4 L133.1 142.9 L134.6 142.6 L136 141.8 L137.5 139.8 L138.9 139 L140.4 137.9 L141.8 136.7 L143.3 136.5 L144.7 135.8 L146.2 132.7 L147.6 129.1 L149.1 127.1 L150.6 125.3 L152 122.4 L153.5 120.3 L154.9 119.2 L156.4 117 L157.8 114.3 L159.3 113.1 L160.7 110.8 L162.2 107.8 L163.6 105.9 L165.1 103.7 L166.6 100.1 L168 98.4 L169.5 96 L170.9 93.4 L172.4 91.3 L173.8 88.8 L175.3 84.7 L176.7 82.1 L178.2 79.4 L179.7 77 L181.1 75.3 L182.6 72.3 L184 69.9 L185.5 66.1 L186.9 66.3 L188.4 64.2 L189.8 60.1 L191.3 55.9 L192.8 55.7 L194.2 57.2 L195.7 56.7 L197.1 56.7 L198.6 55.8 L200 55.5 L201.5 55.4 L202.9 55.7 L204.4 56.9 L205.8 58.7 L207.3 60 L208.8 62.8 L210.2 64.6 L211.7 65 L213.1 66.7 L214.6 68.6 L216 71.5 L217.5 72.7 L218.9 73.1 L220.4 75.3 L221.8 78.5 L223.3 81.7 L224.8 84.6 L226.2 87.7 L227.7 88.8 L229.1 90.5 L230.6 91.3 L232 93.4 L233.5 95.7 L234.9 98.3 L236.4 98.6 L237.9 99.1 L239.3 101.2 L240.8 103.8 L242.2 104.2 L243.7 104.1 L245.1 105.3 L246.6 105.9 L248 106.7 L249.5 108.8 L250.9 110.7 L252.4 113.1 L253.9 113.8 L255.3 114.1 L256.8 114.8 L258.2 114.6 L259.7 114.3 L261.1 115.2 L262.6 115.8 L264 116.4 L265.5 117.6 L267 116.9 L268.4 117.7 L269.9 117.3 L271.3 118 L272.8 118.7 L274.2 118.5 L275.7 118.2 L277.1 117.9 L278.6 118.6 L280.1 118.2 L281.5 118.1 L283 117.3 L284.4 116 L285.9 116.8 L287.3 117.3 L288.8 115.5 L290.2 113 L291.7 111.7 L293.1 111.7 L294.6 111.5 L296.1 111.5 L297.5 110.4 L299 108.8 L300.4 108.5 L301.9 108.3 L303.3 108.4 L304.8 108.9 L306.2 109.8 L307.7 110.2 L309.1 111.4 L310.6 112.2 L312.1 110.6 L313.5 110.6 L315 109.7 L316.4 109.8 L317.9 109.3 L319.3 108.5 L320.8 107.7 L322.2 107.8 L323.7 106.9 L325.2 105.9 L326.6 106.1 L328.1 105.3 L329.5 105.6 L331 106.4 L332.4 107.6" stroke="#1f5e5e" stroke-width="2.6"/>
</g>
<path d="M130.7 96.6 L142.8 96.6 L142.8 179.4 L150.2 179.4 L136.6 191.2 L125.1 179.4 L130.7 179.4 Z" fill="none" stroke="#d42a2a" stroke-width="1.5" stroke-dasharray="3.4 1.9"/>
<text transform="translate(140.2,112.5) rotate(-90)" font-size="10" text-anchor="middle" fill="#111" stroke="#111" stroke-width="0.25">[GMP]</text>
<rect x="61.5" y="8.5" width="273" height="216.1" fill="none" stroke="#000" stroke-width="2.6" stroke-linejoin="round"/>
<line x1="56.3" y1="8.6" x2="61.5" y2="8.6" stroke="#000" stroke-width="2.4"/>
<text x="53.8" y="12.9" font-size="12" text-anchor="end" font-weight="bold" fill="#000" stroke="#000" >1</text>
<line x1="56.3" y1="116.7" x2="61.5" y2="116.7" stroke="#000" stroke-width="2.4"/>
<text x="53.8" y="121" font-size="12" text-anchor="end" font-weight="bold" fill="#000" stroke="#000" >0</text>
<line x1="56.3" y1="224.8" x2="61.5" y2="224.8" stroke="#000" stroke-width="2.4"/>
<text x="53.8" y="229.1" font-size="12" text-anchor="end" font-weight="bold" fill="#000" stroke="#000" >-1</text>
<line x1="81.2" y1="224.6" x2="81.2" y2="229.4" stroke="#000" stroke-width="2.4"/>
<text x="81.2" y="241.3" font-size="12" text-anchor="middle" font-weight="bold" fill="#000" stroke="#000" >220</text>
<line x1="120" y1="224.6" x2="120" y2="229.4" stroke="#000" stroke-width="2.4"/>
<text x="120" y="241.3" font-size="12" text-anchor="middle" font-weight="bold" fill="#000" stroke="#000" >240</text>
<line x1="158.8" y1="224.6" x2="158.8" y2="229.4" stroke="#000" stroke-width="2.4"/>
<text x="158.8" y="241.3" font-size="12" text-anchor="middle" font-weight="bold" fill="#000" stroke="#000" >260</text>
<line x1="197.6" y1="224.6" x2="197.6" y2="229.4" stroke="#000" stroke-width="2.4"/>
<text x="197.6" y="241.3" font-size="12" text-anchor="middle" font-weight="bold" fill="#000" stroke="#000" >280</text>
<line x1="236.4" y1="224.6" x2="236.4" y2="229.4" stroke="#000" stroke-width="2.4"/>
<text x="236.4" y="241.3" font-size="12" text-anchor="middle" font-weight="bold" fill="#000" stroke="#000" >300</text>
<line x1="275.2" y1="224.6" x2="275.2" y2="229.4" stroke="#000" stroke-width="2.4"/>
<text x="275.2" y="241.3" font-size="12" text-anchor="middle" font-weight="bold" fill="#000" stroke="#000" >320</text>
<line x1="314" y1="224.6" x2="314" y2="229.4" stroke="#000" stroke-width="2.4"/>
<text x="314" y="241.3" font-size="12" text-anchor="middle" font-weight="bold" fill="#000" stroke="#000" >340</text>
<text x="197.5" y="263" font-size="14.5" text-anchor="middle" font-weight="bold" fill="#000" stroke="#000" >Wavelength (nm)</text>
<text transform="translate(30.2,110.7) rotate(-90)" font-size="14.2" text-anchor="middle" font-weight="bold" fill="#000" stroke="#000">CD (mdeg)</text>
<text x="1.5" y="25" font-size="33" text-anchor="start" font-weight="bold" fill="#000" stroke="#000" >a</text>
<text x="271.2" y="28.3" font-size="12" text-anchor="start" font-weight="bold" fill="#000" stroke="#000" >[GMP](μM)</text>
<line x1="272" y1="38" x2="299" y2="38" stroke="#2a6464" stroke-width="3" stroke-linecap="round"/>
<text x="303.3" y="42.8" font-size="12.3" text-anchor="start" font-weight="bold" fill="#000" stroke="#000" >0</text>
<path d="M282.4 44.2 L290.3 44.2 L290.3 69 L294.2 69 L286.3 77 L278.3 69 L282.4 69 Z" fill="url(#garrA)"/>
<line x1="272" y1="82.8" x2="299" y2="82.8" stroke="#7fe8c8" stroke-width="3" stroke-linecap="round"/>
<text x="303.5" y="87.6" font-size="12.3" text-anchor="start" font-weight="bold" fill="#000" stroke="#000" >150</text>
<rect x="409.3" y="10.4" width="272.8" height="215.1" fill="#c0c0c0"/>
<line x1="409.3" y1="223.6" x2="682.1" y2="223.6" stroke="#d6d6d6" stroke-width="1.2"/>
<circle cx="417.3" cy="39" r="3.5" fill="url(#rdot)"/>
<circle cx="434.5" cy="41.2" r="3.5" fill="url(#rdot)"/>
<circle cx="451.5" cy="53.5" r="3.5" fill="url(#rdot)"/>
<circle cx="468.7" cy="69.7" r="3.5" fill="url(#rdot)"/>
<circle cx="485.7" cy="81.7" r="3.5" fill="url(#rdot)"/>
<circle cx="502.7" cy="123.3" r="3.5" fill="url(#rdot)"/>
<circle cx="537" cy="149.3" r="3.5" fill="url(#rdot)"/>
<circle cx="571.1" cy="151.3" r="3.5" fill="url(#rdot)"/>
<circle cx="605.3" cy="159.8" r="3.5" fill="url(#rdot)"/>
<circle cx="639.4" cy="176.9" r="3.5" fill="url(#rdot)"/>
<circle cx="673.6" cy="213.3" r="3.5" fill="url(#rdot)"/>
<path d="M417.3 40.9 L418.8 40.8 L420.3 40.8 L421.8 40.8 L423.3 40.8 L424.8 40.8 L426.3 40.9 L427.8 41 L429.3 41.1 L430.8 41.3 L432.3 41.6 L433.8 42 L435.3 42.4 L436.8 43 L438.3 43.6 L439.8 44.2 L441.3 44.9 L442.8 45.7 L444.3 46.5 L445.8 47.4 L447.3 48.3 L448.8 49.2 L450.3 50.1 L451.8 51 L453.3 52 L454.8 52.9 L456.3 53.9 L457.8 54.9 L459.3 56 L460.8 57.1 L462.3 58.3 L463.8 59.5 L465.3 60.8 L466.8 62.2 L468.3 63.7 L469.8 65.2 L471.3 66.9 L472.8 68.6 L474.3 70.4 L475.8 72.3 L477.3 74.3 L478.8 76.3 L480.3 78.5 L481.8 80.8 L483.3 83.1 L484.8 85.6 L486.3 88.1 L487.8 90.7 L489.3 93.4 L490.8 96.2 L492.3 99 L493.8 101.9 L495.3 104.8 L496.8 107.6 L498.3 110.5 L499.8 113.3 L501.3 116 L502.8 118.7 L504.3 121.2 L505.8 123.6 L507.3 125.8 L508.8 128 L510.3 130 L511.8 131.8 L513.3 133.6 L514.8 135.2 L516.3 136.7 L517.8 138.1 L519.3 139.3 L520.8 140.5 L522.3 141.6 L523.8 142.6 L525.3 143.5 L526.8 144.3 L528.3 145 L529.8 145.7 L531.3 146.4 L532.8 146.9 L534.3 147.5 L535.8 148 L537.3 148.5 L538.8 149 L540.3 149.4 L541.8 149.9 L543.3 150.3 L544.8 150.7 L546.3 151 L547.8 151.4 L549.3 151.7 L550.8 152 L552.3 152.3 L553.8 152.6 L555.3 152.8 L556.8 153 L558.3 153.2 L559.8 153.4 L561.3 153.5 L562.8 153.6 L564.3 153.7 L565.8 153.8 L567.3 153.9 L568.8 154 L570.3 154.1 L571.8 154.1 L573.3 154.2 L574.8 154.3 L576.3 154.4 L577.8 154.5 L579.3 154.6 L580.8 154.7 L582.3 154.8 L583.8 155 L585.3 155.1 L586.8 155.3 L588.3 155.5 L589.8 155.7 L591.3 156 L592.8 156.2 L594.3 156.5 L595.8 156.8 L597.3 157.1 L598.8 157.4 L600.3 157.8 L601.8 158.1 L603.3 158.5 L604.8 158.9 L606.3 159.3 L607.8 159.7 L609.3 160.1 L610.8 160.5 L612.3 161 L613.8 161.5 L615.3 162 L616.8 162.5 L618.3 163 L619.8 163.6 L621.3 164.2 L622.8 164.9 L624.3 165.5 L625.8 166.3 L627.3 167 L628.8 167.9 L630.3 168.7 L631.8 169.7 L633.3 170.7 L634.8 171.7 L636.3 172.9 L637.8 174.1 L639.3 175.4 L640.8 176.8 L642.3 178.3 L643.8 179.8 L645.3 181.4 L646.8 183 L648.3 184.7 L649.8 186.4 L651.3 188.1 L652.8 189.9 L654.3 191.6 L655.8 193.3 L657.3 195 L658.8 196.6 L660.3 198.3 L661.8 199.9 L663.3 201.6 L664.8 203.2 L666.3 204.8 L667.8 206.4 L669.3 208 L670.8 209.5 L672.3 211.1" fill="none" stroke="#f2f57a" stroke-width="1.9"/>
<rect x="409.3" y="10.4" width="272.8" height="215.1" fill="none" stroke="#000" stroke-width="2.6" stroke-linejoin="round"/>
<line x1="404" y1="41" x2="409.3" y2="41" stroke="#000" stroke-width="2.4"/>
<text x="401.2" y="45.3" font-size="12" text-anchor="end" font-weight="bold" fill="#000" stroke="#000" >-0.2</text>
<line x1="404" y1="102.5" x2="409.3" y2="102.5" stroke="#000" stroke-width="2.4"/>
<text x="401.2" y="106.8" font-size="12" text-anchor="end" font-weight="bold" fill="#000" stroke="#000" >-0.4</text>
<line x1="404" y1="164" x2="409.3" y2="164" stroke="#000" stroke-width="2.4"/>
<text x="401.2" y="168.3" font-size="12" text-anchor="end" font-weight="bold" fill="#000" stroke="#000" >-0.6</text>
<line x1="404" y1="225.5" x2="409.3" y2="225.5" stroke="#000" stroke-width="2.4"/>
<text x="401.2" y="229.8" font-size="12" text-anchor="end" font-weight="bold" fill="#000" stroke="#000" >-0.8</text>
<line x1="417.9" y1="225.5" x2="417.9" y2="230.5" stroke="#000" stroke-width="2.4"/>
<text x="417.9" y="241.9" font-size="12" text-anchor="middle" font-weight="bold" fill="#000" stroke="#000" >0</text>
<line x1="452" y1="225.5" x2="452" y2="230.5" stroke="#000" stroke-width="2.4"/>
<text x="452" y="241.9" font-size="12" text-anchor="middle" font-weight="bold" fill="#000" stroke="#000" >20</text>
<line x1="486" y1="225.5" x2="486" y2="230.5" stroke="#000" stroke-width="2.4"/>
<text x="486" y="241.9" font-size="12" text-anchor="middle" font-weight="bold" fill="#000" stroke="#000" >40</text>
<line x1="520.1" y1="225.5" x2="520.1" y2="230.5" stroke="#000" stroke-width="2.4"/>
<text x="520.1" y="241.9" font-size="12" text-anchor="middle" font-weight="bold" fill="#000" stroke="#000" >60</text>
<line x1="554.1" y1="225.5" x2="554.1" y2="230.5" stroke="#000" stroke-width="2.4"/>
<text x="554.1" y="241.9" font-size="12" text-anchor="middle" font-weight="bold" fill="#000" stroke="#000" >80</text>
<line x1="588.2" y1="225.5" x2="588.2" y2="230.5" stroke="#000" stroke-width="2.4"/>
<text x="588.2" y="241.9" font-size="12" text-anchor="middle" font-weight="bold" fill="#000" stroke="#000" >100</text>
<line x1="622.3" y1="225.5" x2="622.3" y2="230.5" stroke="#000" stroke-width="2.4"/>
<text x="622.3" y="241.9" font-size="12" text-anchor="middle" font-weight="bold" fill="#000" stroke="#000" >120</text>
<line x1="656.3" y1="225.5" x2="656.3" y2="230.5" stroke="#000" stroke-width="2.4"/>
<text x="656.3" y="241.9" font-size="12" text-anchor="middle" font-weight="bold" fill="#000" stroke="#000" >140</text>
<text x="545.6" y="264" font-size="14" text-anchor="middle" font-weight="bold" fill="#000" stroke="#000" >[GMP] (μM)</text>
<text transform="translate(374.6,117.2) rotate(-90)" font-size="14" text-anchor="middle" font-weight="bold" fill="#000" stroke="#000">Ellipticity (mdeg)</text>
<text x="347" y="24.8" font-size="33" text-anchor="start" font-weight="bold" fill="#000" stroke="#000" >b</text>
<circle cx="584.6" cy="25.5" r="3.6" fill="url(#rdot)"/>
<text x="602.9" y="29.7" font-size="12" text-anchor="start" font-weight="bold" fill="#222" stroke="#222" >Ellipticity</text>
<line x1="569.5" y1="40.5" x2="598.7" y2="40.5" stroke="#f2f57a" stroke-width="1.9"/>
<text x="602.3" y="44.7" font-size="12.2" text-anchor="start"  fill="#222" stroke="none" >Fitted Curve</text>
<text x="602.3" y="60.7" font-size="12.2" text-anchor="start"  fill="#222" stroke="none" >R<tspan font-size="8" dy="-5">2</tspan><tspan dy="5"> = 0.99614</tspan></text>
<clipPath id="clipC"><rect x="62.6" y="276.4" width="272.8" height="215.1"/></clipPath>
<g clip-path="url(#clipC)" fill="none" stroke-linejoin="round">
<path d="M62.6 489.3 L63.4 489.3 L64.2 489.3 L65 489.3 L65.8 489.2 L66.6 489.1 L67.4 489 L68.2 488.9 L69 488.8 L69.8 488.6 L70.6 488.5 L71.4 488.4 L72.2 488.2 L73 488.1 L73.8 488 L74.6 487.9 L75.4 487.9 L76.2 487.8 L77 487.8 L77.8 487.8 L78.6 487.8 L79.4 487.7 L80.2 487.7 L81 487.6 L81.8 487.5 L82.6 487.3 L83.4 487.1 L84.2 486.9 L85 486.6 L85.8 486.2 L86.6 485.8 L87.4 485.4 L88.2 484.9 L89 484.3 L89.8 483.7 L90.6 483 L91.4 482.2 L92.2 481.5 L93 480.7 L93.8 479.9 L94.6 478.9 L95.4 477.7 L96.2 476.3 L97 474.3 L97.8 472.1 L98.6 470 L99.4 467.9 L100.2 465.6 L101 463.3 L101.8 461 L102.6 458.5 L103.4 455.9 L104.2 453.1 L105 450.1 L105.8 446.8 L106.6 443.4 L107.4 439.8 L108.2 436.1 L109 432.5 L109.8 428.9 L110.6 425.4 L111.4 421.8 L112.2 418.1 L113 414.5 L113.8 411 L114.6 407.4 L115.4 404 L116.2 400.7 L117 397.5 L117.8 394.4 L118.6 391.2 L119.4 388.1 L120.2 384.8 L121 381.6 L121.8 378.2 L122.6 374.9 L123.4 372 L124.2 369.4 L125 367 L125.8 364.9 L126.6 362.9 L127.4 361.1 L128.2 359.7 L129 358.4 L129.8 357.4 L130.6 356.7 L131.4 356.3 L132.2 356.1 L133 356.2 L133.8 356.5 L134.6 356.8 L135.4 357.1 L136.2 357.6 L137 358.1 L137.8 358.7 L138.6 359.4 L139.4 360.2 L140.2 361 L141 361.9 L141.8 362.8 L142.6 363.8 L143.4 364.8 L144.2 365.9 L145 367 L145.8 368.1 L146.6 369.2 L147.4 370.3 L148.2 371.5 L149 372.6 L149.8 373.8 L150.6 375 L151.4 376.3 L152.2 377.5 L153 378.9 L153.8 380.2 L154.6 381.6 L155.4 382.9 L156.2 384.3 L157 385.7 L157.8 387.1 L158.6 388.5 L159.4 389.9 L160.2 391.3 L161 392.7 L161.8 394.1 L162.6 395.4 L163.4 396.8 L164.2 398.2 L165 399.5 L165.8 400.9 L166.6 402.2 L167.4 403.5 L168.2 404.8 L169 406.2 L169.8 407.5 L170.6 408.9 L171.4 410.2 L172.2 411.6 L173 412.9 L173.8 414.2 L174.6 415.5 L175.4 416.7 L176.2 418 L177 419.3 L177.8 420.5 L178.6 421.9 L179.4 423.2 L180.2 424.6 L181 425.9 L181.8 426.9 L182.6 427.8 L183.4 428.6 L184.2 429.3 L185 430 L185.8 430.6 L186.6 431.2 L187.4 431.8 L188.2 432.4 L189 432.9 L189.8 433.5 L190.6 434.1 L191.4 434.7 L192.2 435.3 L193 435.9 L193.8 436.5 L194.6 437.1 L195.4 437.7 L196.2 438.3 L197 439 L197.8 439.6 L198.6 440.2 L199.4 440.8 L200.2 441.4 L201 442 L201.8 442.5 L202.6 443.1 L203.4 443.6 L204.2 444.2 L205 444.8 L205.8 445.3 L206.6 445.9 L207.4 446.5 L208.2 447.1 L209 447.7 L209.8 448.3 L210.6 448.9 L211.4 449.5 L212.2 450.1 L213 450.7 L213.8 451.2 L214.6 451.7 L215.4 452.2 L216.2 452.7 L217 453.1 L217.8 453.5 L218.6 453.9 L219.4 454.2 L220.2 454.6 L221 454.9 L221.8 455.2 L222.6 455.6 L223.4 455.9 L224.2 456.3 L225 456.7 L225.8 457.1 L226.6 457.6 L227.4 458 L228.2 458.5 L229 459 L229.8 459.5 L230.6 459.9 L231.4 460.3 L232.2 460.7 L233 461.1 L233.8 461.4 L234.6 461.7 L235.4 461.9 L236.2 462.2 L237 462.4 L237.8 462.6 L238.6 462.8 L239.4 462.9 L240.2 463.1 L241 463.3 L241.8 463.6 L242.6 463.8 L243.4 464.1 L244.2 464.4 L245 464.7 L245.8 465 L246.6 465.3 L247.4 465.7 L248.2 466.1 L249 466.4 L249.8 466.8 L250.6 467.1 L251.4 467.4 L252.2 467.7 L253 468 L253.8 468.2 L254.6 468.5 L255.4 468.7 L256.2 468.9 L257 469 L257.8 469.2 L258.6 469.3 L259.4 469.4 L260.2 469.6 L261 469.7 L261.8 469.9 L262.6 470 L263.4 470.2 L264.2 470.4 L265 470.6 L265.8 470.9 L266.6 471.1 L267.4 471.3 L268.2 471.6 L269 471.8 L269.8 472 L270.6 472.2 L271.4 472.4 L272.2 472.5 L273 472.7 L273.8 472.8 L274.6 472.8 L275.4 472.9 L276.2 473 L277 473 L277.8 473.1 L278.6 473.1 L279.4 473.2 L280.2 473.2 L281 473.3 L281.8 473.4 L282.6 473.5 L283.4 473.7 L284.2 473.8 L285 474 L285.8 474.2 L286.6 474.4 L287.4 474.5 L288.2 474.7 L289 474.9 L289.8 475 L290.6 475.2 L291.4 475.3 L292.2 475.4 L293 475.5 L293.8 475.6 L294.6 475.6 L295.4 475.6 L296.2 475.6 L297 475.5 L297.8 475.5 L298.6 475.4 L299.4 475.3 L300.2 475.3 L301 475.3 L301.8 475.2 L302.6 475.2 L303.4 475.3 L304.2 475.3 L305 475.3 L305.8 475.3 L306.6 475.3 L307.4 475.3 L308.2 475.2 L309 475.1 L309.8 475 L310.6 474.8 L311.4 474.6 L312.2 474.4 L313 474.2 L313.8 473.9 L314.6 473.7 L315.4 473.5 L316.2 473.4 L317 473.2 L317.8 473.1 L318.6 473 L319.4 473 L320.2 472.9 L321 472.9 L321.8 473 L322.6 473 L323.4 473.1 L324.2 473.2 L325 473.2 L325.8 473.3 L326.6 473.4 L327.4 473.5 L328.2 473.5 L329 473.6 L329.8 473.6 L330.6 473.6 L331.4 473.5 L332.2 473.5 L333 473.4 L333.8 473.3 L334.6 473.2" stroke="#c4f6fa" stroke-width="1.5"/>
<path d="M62.6 489 L63.4 489 L64.2 489 L65 489.1 L65.8 489.1 L66.6 489 L67.4 489 L68.2 489 L69 488.9 L69.8 488.8 L70.6 488.7 L71.4 488.5 L72.2 488.4 L73 488.2 L73.8 488.1 L74.6 487.9 L75.4 487.8 L76.2 487.7 L77 487.6 L77.8 487.5 L78.6 487.4 L79.4 487.3 L80.2 487.3 L81 487.2 L81.8 487.1 L82.6 487 L83.4 486.8 L84.2 486.6 L85 486.4 L85.8 486.1 L86.6 485.8 L87.4 485.3 L88.2 484.9 L89 484.3 L89.8 483.7 L90.6 483 L91.4 482.2 L92.2 481.4 L93 480.5 L93.8 479.6 L94.6 478.5 L95.4 477.2 L96.2 475.6 L97 473.5 L97.8 471.2 L98.6 469 L99.4 466.8 L100.2 464.5 L101 462.1 L101.8 459.7 L102.6 457.3 L103.4 454.7 L104.2 451.8 L105 448.8 L105.8 445.5 L106.6 442 L107.4 438.3 L108.2 434.5 L109 430.8 L109.8 427.1 L110.6 423.4 L111.4 419.6 L112.2 415.8 L113 412 L113.8 408.3 L114.6 404.5 L115.4 400.9 L116.2 397.5 L117 394.1 L117.8 390.8 L118.6 387.6 L119.4 384.3 L120.2 381 L121 377.7 L121.8 374.3 L122.6 371 L123.4 368 L124.2 365.4 L125 363.1 L125.8 360.9 L126.6 358.9 L127.4 357.1 L128.2 355.6 L129 354.3 L129.8 353.1 L130.6 352.4 L131.4 351.9 L132.2 351.6 L133 351.7 L133.8 351.8 L134.6 352.1 L135.4 352.4 L136.2 352.8 L137 353.3 L137.8 353.9 L138.6 354.6 L139.4 355.5 L140.2 356.5 L141 357.4 L141.8 358.4 L142.6 359.5 L143.4 360.6 L144.2 361.8 L145 362.9 L145.8 364.1 L146.6 365.3 L147.4 366.4 L148.2 367.6 L149 368.7 L149.8 369.8 L150.6 371 L151.4 372.2 L152.2 373.4 L153 374.7 L153.8 376 L154.6 377.4 L155.4 378.8 L156.2 380.2 L157 381.6 L157.8 383.1 L158.6 384.6 L159.4 386.1 L160.2 387.5 L161 389 L161.8 390.5 L162.6 392 L163.4 393.5 L164.2 394.9 L165 396.3 L165.8 397.7 L166.6 399.1 L167.4 400.4 L168.2 401.7 L169 403 L169.8 404.3 L170.6 405.6 L171.4 406.9 L172.2 408.3 L173 409.6 L173.8 410.9 L174.6 412.2 L175.4 413.5 L176.2 414.8 L177 416.1 L177.8 417.5 L178.6 418.9 L179.4 420.3 L180.2 421.8 L181 423.3 L181.8 424.5 L182.6 425.5 L183.4 426.4 L184.2 427.2 L185 427.9 L185.8 428.5 L186.6 429.1 L187.4 429.7 L188.2 430.2 L189 430.7 L189.8 431.3 L190.6 431.8 L191.4 432.4 L192.2 432.9 L193 433.5 L193.8 434.1 L194.6 434.7 L195.4 435.4 L196.2 436.1 L197 436.8 L197.8 437.5 L198.6 438.2 L199.4 438.9 L200.2 439.6 L201 440.2 L201.8 440.8 L202.6 441.4 L203.4 442 L204.2 442.6 L205 443.1 L205.8 443.7 L206.6 444.2 L207.4 444.8 L208.2 445.3 L209 445.9 L209.8 446.5 L210.6 447 L211.4 447.6 L212.2 448.2 L213 448.8 L213.8 449.4 L214.6 449.9 L215.4 450.5 L216.2 451 L217 451.6 L217.8 452.1 L218.6 452.5 L219.4 453 L220.2 453.4 L221 453.8 L221.8 454.1 L222.6 454.5 L223.4 454.8 L224.2 455.2 L225 455.5 L225.8 455.9 L226.6 456.3 L227.4 456.7 L228.2 457.1 L229 457.5 L229.8 457.9 L230.6 458.4 L231.4 458.8 L232.2 459.2 L233 459.6 L233.8 460 L234.6 460.4 L235.4 460.7 L236.2 461.1 L237 461.4 L237.8 461.6 L238.6 461.9 L239.4 462.1 L240.2 462.3 L241 462.5 L241.8 462.8 L242.6 463 L243.4 463.2 L244.2 463.4 L245 463.7 L245.8 463.9 L246.6 464.2 L247.4 464.5 L248.2 464.8 L249 465.2 L249.8 465.5 L250.6 465.8 L251.4 466.2 L252.2 466.5 L253 466.9 L253.8 467.2 L254.6 467.5 L255.4 467.8 L256.2 468.1 L257 468.3 L257.8 468.6 L258.6 468.7 L259.4 468.9 L260.2 469 L261 469.2 L261.8 469.3 L262.6 469.4 L263.4 469.5 L264.2 469.7 L265 469.8 L265.8 470 L266.6 470.2 L267.4 470.3 L268.2 470.6 L269 470.8 L269.8 471 L270.6 471.2 L271.4 471.5 L272.2 471.7 L273 471.9 L273.8 472.1 L274.6 472.2 L275.4 472.4 L276.2 472.5 L277 472.6 L277.8 472.7 L278.6 472.7 L279.4 472.8 L280.2 472.8 L281 472.9 L281.8 472.9 L282.6 473 L283.4 473 L284.2 473.1 L285 473.2 L285.8 473.3 L286.6 473.5 L287.4 473.6 L288.2 473.8 L289 474 L289.8 474.2 L290.6 474.4 L291.4 474.6 L292.2 474.8 L293 474.9 L293.8 475.1 L294.6 475.2 L295.4 475.3 L296.2 475.3 L297 475.3 L297.8 475.2 L298.6 475.1 L299.4 475 L300.2 474.9 L301 474.8 L301.8 474.8 L302.6 474.7 L303.4 474.6 L304.2 474.6 L305 474.5 L305.8 474.5 L306.6 474.5 L307.4 474.5 L308.2 474.5 L309 474.4 L309.8 474.3 L310.6 474.2 L311.4 474.1 L312.2 474 L313 473.8 L313.8 473.6 L314.6 473.5 L315.4 473.3 L316.2 473.1 L317 473 L317.8 472.8 L318.6 472.7 L319.4 472.5 L320.2 472.4 L321 472.3 L321.8 472.3 L322.6 472.2 L323.4 472.2 L324.2 472.3 L325 472.3 L325.8 472.4 L326.6 472.5 L327.4 472.6 L328.2 472.7 L329 472.8 L329.8 472.9 L330.6 473 L331.4 473 L332.2 473 L333 473 L333.8 473 L334.6 472.9" stroke="#b4f0f8" stroke-width="1.5"/>
<path d="M62.6 489.1 L63.4 489 L64.2 488.8 L65 488.7 L65.8 488.6 L66.6 488.5 L67.4 488.4 L68.2 488.3 L69 488.2 L69.8 488.2 L70.6 488.2 L71.4 488.2 L72.2 488.2 L73 488.2 L73.8 488.2 L74.6 488.2 L75.4 488.1 L76.2 488.1 L77 488 L77.8 488 L78.6 487.8 L79.4 487.7 L80.2 487.5 L81 487.3 L81.8 487.1 L82.6 486.8 L83.4 486.4 L84.2 486.1 L85 485.8 L85.8 485.4 L86.6 485 L87.4 484.6 L88.2 484.1 L89 483.7 L89.8 483.2 L90.6 482.5 L91.4 481.9 L92.2 481.2 L93 480.5 L93.8 479.7 L94.6 478.7 L95.4 477.4 L96.2 475.8 L97 473.6 L97.8 471.2 L98.6 468.8 L99.4 466.4 L100.2 463.9 L101 461.3 L101.8 458.7 L102.6 456 L103.4 453.2 L104.2 450.2 L105 447 L105.8 443.6 L106.6 440.1 L107.4 436.3 L108.2 432.5 L109 428.8 L109.8 425.2 L110.6 421.5 L111.4 417.8 L112.2 414 L113 410.2 L113.8 406.5 L114.6 402.7 L115.4 399 L116.2 395.4 L117 391.8 L117.8 388.4 L118.6 385 L119.4 381.4 L120.2 377.9 L121 374.3 L121.8 370.7 L122.6 367.1 L123.4 364 L124.2 361.3 L125 358.9 L125.8 356.7 L126.6 354.7 L127.4 352.9 L128.2 351.6 L129 350.3 L129.8 349.3 L130.6 348.7 L131.4 348.3 L132.2 348.2 L133 348.3 L133.8 348.5 L134.6 348.8 L135.4 349 L136.2 349.4 L137 349.8 L137.8 350.2 L138.6 350.8 L139.4 351.5 L140.2 352.4 L141 353.2 L141.8 354.1 L142.6 355.1 L143.4 356.2 L144.2 357.4 L145 358.7 L145.8 360 L146.6 361.3 L147.4 362.6 L148.2 363.9 L149 365.2 L149.8 366.5 L150.6 367.9 L151.4 369.2 L152.2 370.5 L153 371.8 L153.8 373.1 L154.6 374.5 L155.4 375.8 L156.2 377.1 L157 378.4 L157.8 379.8 L158.6 381.1 L159.4 382.5 L160.2 383.9 L161 385.3 L161.8 386.8 L162.6 388.3 L163.4 389.8 L164.2 391.4 L165 392.9 L165.8 394.5 L166.6 396 L167.4 397.5 L168.2 399 L169 400.5 L169.8 401.9 L170.6 403.4 L171.4 404.7 L172.2 406.1 L173 407.4 L173.8 408.7 L174.6 409.9 L175.4 411.1 L176.2 412.3 L177 413.5 L177.8 414.7 L178.6 416 L179.4 417.3 L180.2 418.8 L181 420.2 L181.8 421.6 L182.6 422.7 L183.4 423.7 L184.2 424.7 L185 425.6 L185.8 426.4 L186.6 427.2 L187.4 428 L188.2 428.6 L189 429.3 L189.8 429.9 L190.6 430.5 L191.4 431.1 L192.2 431.6 L193 432.1 L193.8 432.6 L194.6 433.1 L195.4 433.6 L196.2 434.1 L197 434.7 L197.8 435.3 L198.6 435.9 L199.4 436.6 L200.2 437.2 L201 437.9 L201.8 438.6 L202.6 439.3 L203.4 440.1 L204.2 440.8 L205 441.5 L205.8 442.3 L206.6 443 L207.4 443.7 L208.2 444.3 L209 445 L209.8 445.5 L210.6 446.1 L211.4 446.6 L212.2 447.1 L213 447.6 L213.8 448.1 L214.6 448.5 L215.4 448.9 L216.2 449.3 L217 449.8 L217.8 450.2 L218.6 450.6 L219.4 451.1 L220.2 451.6 L221 452 L221.8 452.5 L222.6 453 L223.4 453.6 L224.2 454.1 L225 454.6 L225.8 455.1 L226.6 455.6 L227.4 456.1 L228.2 456.5 L229 457 L229.8 457.4 L230.6 457.7 L231.4 458.1 L232.2 458.4 L233 458.6 L233.8 458.9 L234.6 459.1 L235.4 459.4 L236.2 459.6 L237 459.8 L237.8 460.1 L238.6 460.4 L239.4 460.7 L240.2 461 L241 461.3 L241.8 461.7 L242.6 462.1 L243.4 462.4 L244.2 462.8 L245 463.2 L245.8 463.6 L246.6 463.9 L247.4 464.2 L248.2 464.5 L249 464.8 L249.8 465 L250.6 465.3 L251.4 465.5 L252.2 465.7 L253 465.9 L253.8 466.1 L254.6 466.3 L255.4 466.5 L256.2 466.7 L257 467 L257.8 467.3 L258.6 467.5 L259.4 467.8 L260.2 468.1 L261 468.4 L261.8 468.7 L262.6 468.9 L263.4 469.2 L264.2 469.5 L265 469.7 L265.8 469.9 L266.6 470.1 L267.4 470.2 L268.2 470.4 L269 470.5 L269.8 470.6 L270.6 470.6 L271.4 470.7 L272.2 470.8 L273 470.9 L273.8 471 L274.6 471.1 L275.4 471.2 L276.2 471.3 L277 471.5 L277.8 471.7 L278.6 471.8 L279.4 472 L280.2 472.2 L281 472.4 L281.8 472.6 L282.6 472.8 L283.4 473 L284.2 473.1 L285 473.2 L285.8 473.4 L286.6 473.4 L287.4 473.5 L288.2 473.5 L289 473.6 L289.8 473.6 L290.6 473.7 L291.4 473.7 L292.2 473.8 L293 473.9 L293.8 474 L294.6 474.1 L295.4 474.2 L296.2 474.3 L297 474.4 L297.8 474.5 L298.6 474.6 L299.4 474.7 L300.2 474.7 L301 474.7 L301.8 474.8 L302.6 474.8 L303.4 474.7 L304.2 474.7 L305 474.6 L305.8 474.5 L306.6 474.4 L307.4 474.3 L308.2 474.1 L309 473.9 L309.8 473.7 L310.6 473.4 L311.4 473.2 L312.2 473 L313 472.8 L313.8 472.6 L314.6 472.5 L315.4 472.4 L316.2 472.3 L317 472.3 L317.8 472.3 L318.6 472.3 L319.4 472.3 L320.2 472.3 L321 472.3 L321.8 472.3 L322.6 472.3 L323.4 472.3 L324.2 472.3 L325 472.2 L325.8 472.2 L326.6 472.1 L327.4 472.1 L328.2 472 L329 472 L329.8 471.9 L330.6 472 L331.4 471.9 L332.2 471.9 L333 471.9 L333.8 472 L334.6 472" stroke="#a6ecf6" stroke-width="1.5"/>
<path d="M62.6 488.7 L63.4 488.7 L64.2 488.7 L65 488.8 L65.8 488.8 L66.6 488.8 L67.4 488.8 L68.2 488.8 L69 488.7 L69.8 488.7 L70.6 488.6 L71.4 488.5 L72.2 488.3 L73 488.2 L73.8 488 L74.6 487.9 L75.4 487.7 L76.2 487.5 L77 487.4 L77.8 487.3 L78.6 487.1 L79.4 487 L80.2 486.9 L81 486.8 L81.8 486.7 L82.6 486.5 L83.4 486.3 L84.2 486.1 L85 485.9 L85.8 485.7 L86.6 485.3 L87.4 484.9 L88.2 484.5 L89 483.9 L89.8 483.3 L90.6 482.6 L91.4 481.7 L92.2 480.9 L93 480 L93.8 479 L94.6 477.8 L95.4 476.4 L96.2 474.7 L97 472.4 L97.8 469.9 L98.6 467.6 L99.4 465.1 L100.2 462.7 L101 460.1 L101.8 457.6 L102.6 455 L103.4 452.2 L104.2 449.2 L105 446 L105.8 442.5 L106.6 438.9 L107.4 435 L108.2 431 L109 427.1 L109.8 423.2 L110.6 419.3 L111.4 415.2 L112.2 411.2 L113 407.2 L113.8 403.1 L114.6 399.1 L115.4 395.3 L116.2 391.5 L117 387.9 L117.8 384.4 L118.6 381 L119.4 377.4 L120.2 373.9 L121 370.4 L121.8 366.8 L122.6 363.2 L123.4 360.1 L124.2 357.4 L125 354.9 L125.8 352.7 L126.6 350.5 L127.4 348.7 L128.2 347.1 L129 345.7 L129.8 344.5 L130.6 343.7 L131.4 343.2 L132.2 342.9 L133 342.9 L133.8 343.1 L134.6 343.3 L135.4 343.6 L136.2 344 L137 344.5 L137.8 345 L138.6 345.8 L139.4 346.7 L140.2 347.7 L141 348.7 L141.8 349.8 L142.6 350.9 L143.4 352.1 L144.2 353.3 L145 354.6 L145.8 355.8 L146.6 357.1 L147.4 358.3 L148.2 359.5 L149 360.7 L149.8 361.9 L150.6 363.1 L151.4 364.3 L152.2 365.6 L153 366.9 L153.8 368.2 L154.6 369.6 L155.4 371 L156.2 372.5 L157 374 L157.8 375.5 L158.6 377 L159.4 378.6 L160.2 380.1 L161 381.7 L161.8 383.3 L162.6 384.9 L163.4 386.4 L164.2 388 L165 389.5 L165.8 391 L166.6 392.5 L167.4 393.9 L168.2 395.3 L169 396.6 L169.8 398 L170.6 399.4 L171.4 400.7 L172.2 402.1 L173 403.4 L173.8 404.8 L174.6 406.1 L175.4 407.5 L176.2 408.8 L177 410.2 L177.8 411.6 L178.6 413 L179.4 414.5 L180.2 416.1 L181 417.6 L181.8 419.1 L182.6 420.4 L183.4 421.4 L184.2 422.4 L185 423.2 L185.8 424 L186.6 424.7 L187.4 425.3 L188.2 425.9 L189 426.4 L189.8 427 L190.6 427.5 L191.4 428.1 L192.2 428.7 L193 429.3 L193.8 429.9 L194.6 430.5 L195.4 431.1 L196.2 431.8 L197 432.5 L197.8 433.3 L198.6 434.1 L199.4 434.8 L200.2 435.6 L201 436.3 L201.8 437 L202.6 437.7 L203.4 438.3 L204.2 439 L205 439.6 L205.8 440.2 L206.6 440.8 L207.4 441.4 L208.2 441.9 L209 442.5 L209.8 443.1 L210.6 443.7 L211.4 444.2 L212.2 444.8 L213 445.5 L213.8 446.1 L214.6 446.7 L215.4 447.3 L216.2 447.9 L217 448.5 L217.8 449 L218.6 449.6 L219.4 450.1 L220.2 450.5 L221 451 L221.8 451.4 L222.6 451.8 L223.4 452.2 L224.2 452.6 L225 453 L225.8 453.3 L226.6 453.7 L227.4 454.1 L228.2 454.5 L229 454.9 L229.8 455.4 L230.6 455.8 L231.4 456.3 L232.2 456.7 L233 457.2 L233.8 457.6 L234.6 458 L235.4 458.4 L236.2 458.8 L237 459.1 L237.8 459.4 L238.6 459.7 L239.4 460 L240.2 460.3 L241 460.5 L241.8 460.8 L242.6 461 L243.4 461.3 L244.2 461.5 L245 461.7 L245.8 462 L246.6 462.3 L247.4 462.6 L248.2 462.9 L249 463.2 L249.8 463.5 L250.6 463.8 L251.4 464.2 L252.2 464.6 L253 464.9 L253.8 465.3 L254.6 465.6 L255.4 466 L256.2 466.3 L257 466.6 L257.8 466.9 L258.6 467.1 L259.4 467.3 L260.2 467.5 L261 467.7 L261.8 467.8 L262.6 468 L263.4 468.1 L264.2 468.2 L265 468.4 L265.8 468.5 L266.6 468.7 L267.4 468.8 L268.2 469 L269 469.2 L269.8 469.4 L270.6 469.7 L271.4 469.9 L272.2 470.1 L273 470.4 L273.8 470.6 L274.6 470.8 L275.4 471 L276.2 471.2 L277 471.3 L277.8 471.4 L278.6 471.5 L279.4 471.6 L280.2 471.7 L281 471.7 L281.8 471.7 L282.6 471.8 L283.4 471.8 L284.2 471.9 L285 472 L285.8 472.1 L286.6 472.2 L287.4 472.3 L288.2 472.5 L289 472.7 L289.8 472.8 L290.6 473 L291.4 473.2 L292.2 473.5 L293 473.7 L293.8 473.9 L294.6 474 L295.4 474.2 L296.2 474.2 L297 474.3 L297.8 474.3 L298.6 474.2 L299.4 474.2 L300.2 474.1 L301 474 L301.8 473.9 L302.6 473.8 L303.4 473.7 L304.2 473.6 L305 473.5 L305.8 473.5 L306.6 473.4 L307.4 473.4 L308.2 473.4 L309 473.3 L309.8 473.3 L310.6 473.2 L311.4 473.1 L312.2 473 L313 472.8 L313.8 472.7 L314.6 472.5 L315.4 472.3 L316.2 472.1 L317 472 L317.8 471.8 L318.6 471.7 L319.4 471.5 L320.2 471.4 L321 471.3 L321.8 471.2 L322.6 471.1 L323.4 471 L324.2 471 L325 471.1 L325.8 471.1 L326.6 471.2 L327.4 471.2 L328.2 471.3 L329 471.5 L329.8 471.6 L330.6 471.7 L331.4 471.8 L332.2 471.8 L333 471.8 L333.8 471.8 L334.6 471.8" stroke="#94e4f6" stroke-width="1.5"/>
<path d="M62.6 489.1 L63.4 489 L64.2 488.9 L65 488.7 L65.8 488.6 L66.6 488.5 L67.4 488.3 L68.2 488.2 L69 488.1 L69.8 488 L70.6 487.9 L71.4 487.9 L72.2 487.8 L73 487.8 L73.8 487.8 L74.6 487.8 L75.4 487.7 L76.2 487.7 L77 487.7 L77.8 487.7 L78.6 487.6 L79.4 487.5 L80.2 487.4 L81 487.2 L81.8 487 L82.6 486.7 L83.4 486.3 L84.2 486 L85 485.6 L85.8 485.2 L86.6 484.7 L87.4 484.2 L88.2 483.7 L89 483.2 L89.8 482.6 L90.6 481.9 L91.4 481.1 L92.2 480.4 L93 479.6 L93.8 478.8 L94.6 477.7 L95.4 476.4 L96.2 474.7 L97 472.5 L97.8 470 L98.6 467.5 L99.4 465 L100.2 462.4 L101 459.7 L101.8 456.9 L102.6 454.1 L103.4 451.1 L104.2 447.9 L105 444.5 L105.8 440.8 L106.6 437 L107.4 433 L108.2 428.9 L109 424.9 L109.8 421.1 L110.6 417.1 L111.4 413.2 L112.2 409.2 L113 405.2 L113.8 401.2 L114.6 397.2 L115.4 393.4 L116.2 389.6 L117 385.9 L117.8 382.3 L118.6 378.7 L119.4 375 L120.2 371.3 L121 367.5 L121.8 363.7 L122.6 359.9 L123.4 356.5 L124.2 353.6 L125 351 L125.8 348.6 L126.6 346.4 L127.4 344.5 L128.2 343 L129 341.7 L129.8 340.6 L130.6 339.9 L131.4 339.5 L132.2 339.4 L133 339.5 L133.8 339.8 L134.6 340.1 L135.4 340.5 L136.2 340.9 L137 341.3 L137.8 341.8 L138.6 342.5 L139.4 343.2 L140.2 344.1 L141 345 L141.8 345.9 L142.6 346.9 L143.4 348 L144.2 349.2 L145 350.4 L145.8 351.7 L146.6 353.1 L147.4 354.4 L148.2 355.7 L149 357.1 L149.8 358.4 L150.6 359.8 L151.4 361.2 L152.2 362.6 L153 364.1 L153.8 365.5 L154.6 366.9 L155.4 368.3 L156.2 369.7 L157 371.2 L157.8 372.6 L158.6 374 L159.4 375.4 L160.2 376.9 L161 378.3 L161.8 379.8 L162.6 381.3 L163.4 382.9 L164.2 384.4 L165 386 L165.8 387.6 L166.6 389.2 L167.4 390.8 L168.2 392.3 L169 393.9 L169.8 395.4 L170.6 396.9 L171.4 398.5 L172.2 399.9 L173 401.4 L173.8 402.8 L174.6 404.1 L175.4 405.4 L176.2 406.7 L177 408 L177.8 409.2 L178.6 410.5 L179.4 411.8 L180.2 413.3 L181 414.8 L181.8 416.2 L182.6 417.6 L183.4 418.7 L184.2 419.7 L185 420.7 L185.8 421.6 L186.6 422.5 L187.4 423.3 L188.2 424.1 L189 424.8 L189.8 425.5 L190.6 426.2 L191.4 426.8 L192.2 427.5 L193 428.1 L193.8 428.6 L194.6 429.2 L195.4 429.7 L196.2 430.2 L197 430.8 L197.8 431.4 L198.6 432.1 L199.4 432.7 L200.2 433.4 L201 434.1 L201.8 434.8 L202.6 435.5 L203.4 436.2 L204.2 437 L205 437.7 L205.8 438.5 L206.6 439.2 L207.4 440 L208.2 440.7 L209 441.5 L209.8 442.1 L210.6 442.8 L211.4 443.4 L212.2 444 L213 444.6 L213.8 445.1 L214.6 445.6 L215.4 446.1 L216.2 446.5 L217 447 L217.8 447.4 L218.6 447.9 L219.4 448.3 L220.2 448.7 L221 449.2 L221.8 449.7 L222.6 450.2 L223.4 450.7 L224.2 451.2 L225 451.7 L225.8 452.3 L226.6 452.8 L227.4 453.3 L228.2 453.9 L229 454.4 L229.8 454.9 L230.6 455.3 L231.4 455.8 L232.2 456.2 L233 456.5 L233.8 456.8 L234.6 457.1 L235.4 457.3 L236.2 457.6 L237 457.8 L237.8 458 L238.6 458.3 L239.4 458.5 L240.2 458.8 L241 459.1 L241.8 459.5 L242.6 459.8 L243.4 460.2 L244.2 460.6 L245 461 L245.8 461.4 L246.6 461.8 L247.4 462.2 L248.2 462.6 L249 462.9 L249.8 463.2 L250.6 463.5 L251.4 463.8 L252.2 464 L253 464.3 L253.8 464.5 L254.6 464.7 L255.4 464.9 L256.2 465.1 L257 465.3 L257.8 465.6 L258.6 465.8 L259.4 466.1 L260.2 466.3 L261 466.6 L261.8 466.9 L262.6 467.2 L263.4 467.5 L264.2 467.8 L265 468 L265.8 468.3 L266.6 468.5 L267.4 468.8 L268.2 469 L269 469.1 L269.8 469.3 L270.6 469.4 L271.4 469.5 L272.2 469.6 L273 469.7 L273.8 469.8 L274.6 469.9 L275.4 469.9 L276.2 470 L277 470.2 L277.8 470.3 L278.6 470.4 L279.4 470.6 L280.2 470.8 L281 471 L281.8 471.2 L282.6 471.4 L283.4 471.6 L284.2 471.8 L285 471.9 L285.8 472.1 L286.6 472.3 L287.4 472.4 L288.2 472.5 L289 472.6 L289.8 472.6 L290.6 472.7 L291.4 472.7 L292.2 472.8 L293 472.9 L293.8 472.9 L294.6 473 L295.4 473.1 L296.2 473.2 L297 473.3 L297.8 473.3 L298.6 473.4 L299.4 473.5 L300.2 473.5 L301 473.6 L301.8 473.6 L302.6 473.7 L303.4 473.7 L304.2 473.7 L305 473.7 L305.8 473.6 L306.6 473.5 L307.4 473.5 L308.2 473.3 L309 473.2 L309.8 473 L310.6 472.7 L311.4 472.5 L312.2 472.2 L313 472 L313.8 471.7 L314.6 471.5 L315.4 471.3 L316.2 471.2 L317 471.1 L317.8 471 L318.6 471 L319.4 471 L320.2 471 L321 471 L321.8 471.1 L322.6 471.1 L323.4 471.1 L324.2 471.1 L325 471.1 L325.8 471.1 L326.6 471.1 L327.4 471 L328.2 471 L329 471 L329.8 470.9 L330.6 470.9 L331.4 470.9 L332.2 470.8 L333 470.8 L333.8 470.8 L334.6 470.8" stroke="#86dcf4" stroke-width="1.5"/>
<path d="M62.6 489 L63.4 489 L64.2 488.9 L65 488.9 L65.8 488.8 L66.6 488.7 L67.4 488.5 L68.2 488.4 L69 488.2 L69.8 488.1 L70.6 488 L71.4 487.8 L72.2 487.7 L73 487.6 L73.8 487.5 L74.6 487.4 L75.4 487.4 L76.2 487.3 L77 487.3 L77.8 487.3 L78.6 487.2 L79.4 487.2 L80.2 487.1 L81 487 L81.8 486.8 L82.6 486.6 L83.4 486.4 L84.2 486.1 L85 485.7 L85.8 485.3 L86.6 484.8 L87.4 484.3 L88.2 483.7 L89 483.1 L89.8 482.4 L90.6 481.6 L91.4 480.8 L92.2 479.9 L93 479.1 L93.8 478.1 L94.6 477 L95.4 475.6 L96.2 473.9 L97 471.7 L97.8 469.1 L98.6 466.7 L99.4 464.1 L100.2 461.5 L101 458.8 L101.8 456.1 L102.6 453.2 L103.4 450.2 L104.2 446.9 L105 443.4 L105.8 439.6 L106.6 435.7 L107.4 431.5 L108.2 427.2 L109 423.1 L109.8 419 L110.6 414.9 L111.4 410.7 L112.2 406.5 L113 402.4 L113.8 398.2 L114.6 394.1 L115.4 390.2 L116.2 386.3 L117 382.6 L117.8 378.9 L118.6 375.3 L119.4 371.6 L120.2 367.8 L121 364 L121.8 360.1 L122.6 356.2 L123.4 352.8 L124.2 349.8 L125 347.1 L125.8 344.6 L126.6 342.3 L127.4 340.3 L128.2 338.7 L129 337.2 L129.8 336 L130.6 335.3 L131.4 334.8 L132.2 334.6 L133 334.7 L133.8 335 L134.6 335.4 L135.4 335.8 L136.2 336.2 L137 336.8 L137.8 337.3 L138.6 338.1 L139.4 338.9 L140.2 339.8 L141 340.8 L141.8 341.8 L142.6 342.8 L143.4 343.9 L144.2 345.1 L145 346.3 L145.8 347.6 L146.6 348.9 L147.4 350.2 L148.2 351.4 L149 352.8 L149.8 354.1 L150.6 355.5 L151.4 356.9 L152.2 358.3 L153 359.7 L153.8 361.2 L154.6 362.7 L155.4 364.2 L156.2 365.7 L157 367.3 L157.8 368.8 L158.6 370.3 L159.4 371.8 L160.2 373.3 L161 374.8 L161.8 376.4 L162.6 377.9 L163.4 379.4 L164.2 381 L165 382.6 L165.8 384.1 L166.6 385.7 L167.4 387.2 L168.2 388.7 L169 390.3 L169.8 391.8 L170.6 393.3 L171.4 394.9 L172.2 396.4 L173 398 L173.8 399.5 L174.6 400.9 L175.4 402.3 L176.2 403.7 L177 405.1 L177.8 406.4 L178.6 407.8 L179.4 409.1 L180.2 410.6 L181 412.1 L181.8 413.6 L182.6 415 L183.4 416.1 L184.2 417.2 L185 418.1 L185.8 419 L186.6 419.9 L187.4 420.7 L188.2 421.5 L189 422.2 L189.8 422.9 L190.6 423.6 L191.4 424.4 L192.2 425.1 L193 425.7 L193.8 426.4 L194.6 427 L195.4 427.7 L196.2 428.3 L197 428.9 L197.8 429.6 L198.6 430.2 L199.4 430.9 L200.2 431.6 L201 432.3 L201.8 433 L202.6 433.6 L203.4 434.3 L204.2 435 L205 435.7 L205.8 436.4 L206.6 437.1 L207.4 437.9 L208.2 438.6 L209 439.4 L209.8 440.1 L210.6 440.8 L211.4 441.5 L212.2 442.2 L213 442.8 L213.8 443.5 L214.6 444.1 L215.4 444.6 L216.2 445.2 L217 445.7 L217.8 446.2 L218.6 446.6 L219.4 447 L220.2 447.5 L221 447.9 L221.8 448.3 L222.6 448.7 L223.4 449.2 L224.2 449.7 L225 450.1 L225.8 450.6 L226.6 451.2 L227.4 451.7 L228.2 452.2 L229 452.8 L229.8 453.4 L230.6 453.9 L231.4 454.4 L232.2 454.9 L233 455.3 L233.8 455.7 L234.6 456.1 L235.4 456.4 L236.2 456.7 L237 456.9 L237.8 457.2 L238.6 457.4 L239.4 457.6 L240.2 457.9 L241 458.1 L241.8 458.4 L242.6 458.6 L243.4 459 L244.2 459.3 L245 459.7 L245.8 460.1 L246.6 460.5 L247.4 460.9 L248.2 461.3 L249 461.7 L249.8 462.1 L250.6 462.5 L251.4 462.9 L252.2 463.2 L253 463.5 L253.8 463.8 L254.6 464 L255.4 464.3 L256.2 464.5 L257 464.7 L257.8 464.9 L258.6 465.1 L259.4 465.3 L260.2 465.5 L261 465.7 L261.8 466 L262.6 466.2 L263.4 466.4 L264.2 466.7 L265 467 L265.8 467.2 L266.6 467.5 L267.4 467.8 L268.2 468 L269 468.3 L269.8 468.5 L270.6 468.7 L271.4 468.9 L272.2 469.1 L273 469.2 L273.8 469.3 L274.6 469.4 L275.4 469.5 L276.2 469.6 L277 469.7 L277.8 469.7 L278.6 469.8 L279.4 469.9 L280.2 470 L281 470.2 L281.8 470.3 L282.6 470.5 L283.4 470.6 L284.2 470.8 L285 471 L285.8 471.2 L286.6 471.4 L287.4 471.6 L288.2 471.8 L289 472 L289.8 472.1 L290.6 472.2 L291.4 472.3 L292.2 472.4 L293 472.5 L293.8 472.6 L294.6 472.7 L295.4 472.7 L296.2 472.8 L297 472.8 L297.8 472.8 L298.6 472.8 L299.4 472.8 L300.2 472.8 L301 472.8 L301.8 472.8 L302.6 472.9 L303.4 472.9 L304.2 472.9 L305 472.9 L305.8 472.9 L306.6 472.9 L307.4 472.9 L308.2 472.9 L309 472.8 L309.8 472.7 L310.6 472.5 L311.4 472.3 L312.2 472 L313 471.8 L313.8 471.5 L314.6 471.2 L315.4 471 L316.2 470.7 L317 470.5 L317.8 470.4 L318.6 470.3 L319.4 470.2 L320.2 470.2 L321 470.2 L321.8 470.2 L322.6 470.2 L323.4 470.2 L324.2 470.3 L325 470.4 L325.8 470.4 L326.6 470.5 L327.4 470.5 L328.2 470.5 L329 470.6 L329.8 470.6 L330.6 470.5 L331.4 470.5 L332.2 470.5 L333 470.4 L333.8 470.3 L334.6 470.3" stroke="#70d6f0" stroke-width="1.5"/>
<path d="M62.6 488.5 L63.4 488.5 L64.2 488.5 L65 488.5 L65.8 488.5 L66.6 488.5 L67.4 488.5 L68.2 488.5 L69 488.5 L69.8 488.4 L70.6 488.3 L71.4 488.2 L72.2 488.1 L73 487.9 L73.8 487.7 L74.6 487.6 L75.4 487.4 L76.2 487.2 L77 487.1 L77.8 486.9 L78.6 486.8 L79.4 486.7 L80.2 486.5 L81 486.4 L81.8 486.3 L82.6 486.1 L83.4 485.9 L84.2 485.7 L85 485.4 L85.8 485.1 L86.6 484.8 L87.4 484.3 L88.2 483.8 L89 483.3 L89.8 482.6 L90.6 481.8 L91.4 480.9 L92.2 480 L93 479 L93.8 478 L94.6 476.7 L95.4 475.1 L96.2 473.3 L97 470.8 L97.8 468.1 L98.6 465.5 L99.4 462.9 L100.2 460.2 L101 457.4 L101.8 454.7 L102.6 451.8 L103.4 448.8 L104.2 445.6 L105 442 L105.8 438.3 L106.6 434.4 L107.4 430.1 L108.2 425.8 L109 421.6 L109.8 417.3 L110.6 413.1 L111.4 408.7 L112.2 404.3 L113 400 L113.8 395.6 L114.6 391.2 L115.4 387 L116.2 383 L117 379 L117.8 375.2 L118.6 371.5 L119.4 367.7 L120.2 363.8 L121 360 L121.8 356.1 L122.6 352.2 L123.4 348.8 L124.2 345.8 L125 343.2 L125.8 340.7 L126.6 338.4 L127.4 336.4 L128.2 334.8 L129 333.2 L129.8 332 L130.6 331.1 L131.4 330.5 L132.2 330.2 L133 330.2 L133.8 330.4 L134.6 330.6 L135.4 330.9 L136.2 331.3 L137 331.8 L137.8 332.4 L138.6 333.2 L139.4 334.1 L140.2 335.1 L141 336.2 L141.8 337.3 L142.6 338.5 L143.4 339.7 L144.2 341 L145 342.4 L145.8 343.7 L146.6 345.1 L147.4 346.4 L148.2 347.7 L149 348.9 L149.8 350.2 L150.6 351.5 L151.4 352.8 L152.2 354.1 L153 355.5 L153.8 356.9 L154.6 358.3 L155.4 359.8 L156.2 361.3 L157 362.9 L157.8 364.5 L158.6 366.1 L159.4 367.8 L160.2 369.4 L161 371.1 L161.8 372.7 L162.6 374.4 L163.4 376.1 L164.2 377.7 L165 379.4 L165.8 381 L166.6 382.6 L167.4 384.1 L168.2 385.6 L169 387.1 L169.8 388.5 L170.6 390 L171.4 391.4 L172.2 392.9 L173 394.4 L173.8 395.8 L174.6 397.3 L175.4 398.7 L176.2 400.2 L177 401.6 L177.8 403.1 L178.6 404.6 L179.4 406.1 L180.2 407.6 L181 409.2 L181.8 410.9 L182.6 412.5 L183.4 413.8 L184.2 415 L185 416 L185.8 416.9 L186.6 417.8 L187.4 418.6 L188.2 419.3 L189 420 L189.8 420.6 L190.6 421.2 L191.4 421.8 L192.2 422.5 L193 423.1 L193.8 423.8 L194.6 424.4 L195.4 425.1 L196.2 425.8 L197 426.5 L197.8 427.3 L198.6 428.1 L199.4 428.9 L200.2 429.7 L201 430.5 L201.8 431.3 L202.6 432 L203.4 432.8 L204.2 433.4 L205 434.1 L205.8 434.8 L206.6 435.5 L207.4 436.1 L208.2 436.8 L209 437.4 L209.8 438.1 L210.6 438.7 L211.4 439.3 L212.2 440 L213 440.7 L213.8 441.3 L214.6 442 L215.4 442.7 L216.2 443.3 L217 444 L217.8 444.6 L218.6 445.2 L219.4 445.8 L220.2 446.3 L221 446.8 L221.8 447.3 L222.6 447.7 L223.4 448.2 L224.2 448.6 L225 449 L225.8 449.4 L226.6 449.8 L227.4 450.3 L228.2 450.7 L229 451.2 L229.8 451.7 L230.6 452.2 L231.4 452.7 L232.2 453.2 L233 453.7 L233.8 454.1 L234.6 454.6 L235.4 455.1 L236.2 455.5 L237 455.9 L237.8 456.2 L238.6 456.6 L239.4 456.9 L240.2 457.2 L241 457.5 L241.8 457.7 L242.6 458 L243.4 458.2 L244.2 458.5 L245 458.8 L245.8 459 L246.6 459.3 L247.4 459.6 L248.2 460 L249 460.3 L249.8 460.7 L250.6 461 L251.4 461.4 L252.2 461.8 L253 462.2 L253.8 462.6 L254.6 463 L255.4 463.3 L256.2 463.7 L257 464 L257.8 464.3 L258.6 464.6 L259.4 464.9 L260.2 465.1 L261 465.3 L261.8 465.5 L262.6 465.7 L263.4 465.8 L264.2 466 L265 466.1 L265.8 466.3 L266.6 466.4 L267.4 466.6 L268.2 466.8 L269 467.1 L269.8 467.3 L270.6 467.5 L271.4 467.8 L272.2 468 L273 468.3 L273.8 468.5 L274.6 468.8 L275.4 469 L276.2 469.2 L277 469.3 L277.8 469.5 L278.6 469.6 L279.4 469.7 L280.2 469.8 L281 469.8 L281.8 469.9 L282.6 470 L283.4 470 L284.2 470.1 L285 470.2 L285.8 470.3 L286.6 470.4 L287.4 470.5 L288.2 470.7 L289 470.9 L289.8 471.1 L290.6 471.3 L291.4 471.5 L292.2 471.7 L293 471.9 L293.8 472.1 L294.6 472.3 L295.4 472.5 L296.2 472.6 L297 472.7 L297.8 472.7 L298.6 472.7 L299.4 472.7 L300.2 472.6 L301 472.5 L301.8 472.4 L302.6 472.3 L303.4 472.2 L304.2 472.1 L305 472.1 L305.8 472 L306.6 472 L307.4 471.9 L308.2 471.9 L309 471.9 L309.8 471.9 L310.6 471.8 L311.4 471.7 L312.2 471.6 L313 471.5 L313.8 471.3 L314.6 471.1 L315.4 470.9 L316.2 470.7 L317 470.5 L317.8 470.3 L318.6 470.1 L319.4 470 L320.2 469.8 L321 469.7 L321.8 469.5 L322.6 469.4 L323.4 469.4 L324.2 469.3 L325 469.3 L325.8 469.3 L326.6 469.4 L327.4 469.5 L328.2 469.6 L329 469.7 L329.8 469.8 L330.6 469.9 L331.4 470 L332.2 470.1 L333 470.1 L333.8 470.1 L334.6 470.1" stroke="#7cc2f0" stroke-width="1.5"/>
<path d="M62.6 488.9 L63.4 488.8 L64.2 488.7 L65 488.5 L65.8 488.4 L66.6 488.3 L67.4 488.1 L68.2 488 L69 487.9 L69.8 487.7 L70.6 487.6 L71.4 487.6 L72.2 487.5 L73 487.5 L73.8 487.4 L74.6 487.4 L75.4 487.4 L76.2 487.3 L77 487.3 L77.8 487.3 L78.6 487.2 L79.4 487.1 L80.2 487 L81 486.8 L81.8 486.6 L82.6 486.3 L83.4 485.9 L84.2 485.6 L85 485.2 L85.8 484.7 L86.6 484.2 L87.4 483.7 L88.2 483.1 L89 482.5 L89.8 481.8 L90.6 481.1 L91.4 480.2 L92.2 479.4 L93 478.6 L93.8 477.6 L94.6 476.5 L95.4 475 L96.2 473.2 L97 470.8 L97.8 468.1 L98.6 465.5 L99.4 462.7 L100.2 459.9 L101 457 L101.8 454 L102.6 451 L103.4 447.7 L104.2 444.3 L105 440.5 L105.8 436.6 L106.6 432.5 L107.4 428.1 L108.2 423.6 L109 419.3 L109.8 415.1 L110.6 410.8 L111.4 406.5 L112.2 402.1 L113 397.8 L113.8 393.4 L114.6 389.2 L115.4 385 L116.2 380.9 L117 376.9 L117.8 373 L118.6 369.1 L119.4 365.1 L120.2 361.1 L121 357 L121.8 352.9 L122.6 348.7 L123.4 345.1 L124.2 341.9 L125 339.1 L125.8 336.5 L126.6 334.1 L127.4 332.1 L128.2 330.4 L129 329 L129.8 327.8 L130.6 327 L131.4 326.6 L132.2 326.4 L133 326.6 L133.8 326.9 L134.6 327.2 L135.4 327.6 L136.2 328 L137 328.5 L137.8 329 L138.6 329.7 L139.4 330.5 L140.2 331.4 L141 332.3 L141.8 333.3 L142.6 334.4 L143.4 335.5 L144.2 336.7 L145 338 L145.8 339.4 L146.6 340.8 L147.4 342.2 L148.2 343.6 L149 345 L149.8 346.5 L150.6 347.9 L151.4 349.4 L152.2 350.9 L153 352.4 L153.8 353.9 L154.6 355.4 L155.4 356.9 L156.2 358.4 L157 359.9 L157.8 361.4 L158.6 363 L159.4 364.5 L160.2 366 L161 367.5 L161.8 369.1 L162.6 370.7 L163.4 372.3 L164.2 374 L165 375.6 L165.8 377.3 L166.6 379 L167.4 380.7 L168.2 382.4 L169 384 L169.8 385.7 L170.6 387.3 L171.4 388.9 L172.2 390.5 L173 392.1 L173.8 393.6 L174.6 395.1 L175.4 396.5 L176.2 397.9 L177 399.3 L177.8 400.6 L178.6 401.9 L179.4 403.3 L180.2 404.7 L181 406.2 L181.8 407.8 L182.6 409.3 L183.4 410.8 L184.2 412.1 L185 413.2 L185.8 414.3 L186.6 415.3 L187.4 416.3 L188.2 417.2 L189 418.1 L189.8 418.9 L190.6 419.6 L191.4 420.4 L192.2 421.1 L193 421.8 L193.8 422.4 L194.6 423 L195.4 423.6 L196.2 424.2 L197 424.7 L197.8 425.4 L198.6 426 L199.4 426.7 L200.2 427.4 L201 428.2 L201.8 428.9 L202.6 429.7 L203.4 430.5 L204.2 431.3 L205 432.1 L205.8 432.9 L206.6 433.7 L207.4 434.5 L208.2 435.4 L209 436.2 L209.8 436.9 L210.6 437.7 L211.4 438.4 L212.2 439.1 L213 439.7 L213.8 440.3 L214.6 440.9 L215.4 441.4 L216.2 442 L217 442.5 L217.8 443 L218.6 443.4 L219.4 443.9 L220.2 444.4 L221 444.9 L221.8 445.4 L222.6 446 L223.4 446.5 L224.2 447.1 L225 447.6 L225.8 448.2 L226.6 448.8 L227.4 449.3 L228.2 449.9 L229 450.5 L229.8 451 L230.6 451.6 L231.4 452.1 L232.2 452.5 L233 452.9 L233.8 453.3 L234.6 453.7 L235.4 454 L236.2 454.3 L237 454.5 L237.8 454.8 L238.6 455.1 L239.4 455.3 L240.2 455.6 L241 456 L241.8 456.3 L242.6 456.6 L243.4 457 L244.2 457.4 L245 457.9 L245.8 458.3 L246.6 458.7 L247.4 459.2 L248.2 459.6 L249 460 L249.8 460.3 L250.6 460.7 L251.4 461 L252.2 461.3 L253 461.5 L253.8 461.8 L254.6 462 L255.4 462.3 L256.2 462.5 L257 462.8 L257.8 463 L258.6 463.3 L259.4 463.6 L260.2 463.8 L261 464.1 L261.8 464.5 L262.6 464.8 L263.4 465.1 L264.2 465.4 L265 465.7 L265.8 466 L266.6 466.2 L267.4 466.5 L268.2 466.7 L269 466.9 L269.8 467.1 L270.6 467.3 L271.4 467.4 L272.2 467.5 L273 467.6 L273.8 467.7 L274.6 467.8 L275.4 467.9 L276.2 468 L277 468.2 L277.8 468.3 L278.6 468.5 L279.4 468.6 L280.2 468.8 L281 469 L281.8 469.2 L282.6 469.4 L283.4 469.6 L284.2 469.8 L285 470 L285.8 470.2 L286.6 470.4 L287.4 470.5 L288.2 470.7 L289 470.8 L289.8 470.9 L290.6 470.9 L291.4 471 L292.2 471.1 L293 471.1 L293.8 471.2 L294.6 471.3 L295.4 471.4 L296.2 471.5 L297 471.6 L297.8 471.7 L298.6 471.8 L299.4 471.9 L300.2 472 L301 472 L301.8 472.1 L302.6 472.1 L303.4 472.2 L304.2 472.2 L305 472.2 L305.8 472.1 L306.6 472.1 L307.4 472 L308.2 471.9 L309 471.8 L309.8 471.6 L310.6 471.4 L311.4 471.2 L312.2 470.9 L313 470.6 L313.8 470.4 L314.6 470.1 L315.4 469.9 L316.2 469.7 L317 469.5 L317.8 469.4 L318.6 469.4 L319.4 469.3 L320.2 469.3 L321 469.3 L321.8 469.3 L322.6 469.3 L323.4 469.4 L324.2 469.4 L325 469.4 L325.8 469.4 L326.6 469.3 L327.4 469.3 L328.2 469.3 L329 469.2 L329.8 469.2 L330.6 469.1 L331.4 469.1 L332.2 469.1 L333 469.1 L333.8 469 L334.6 469" stroke="#5ccced" stroke-width="1.5"/>
<path d="M62.6 488.3 L63.4 488.3 L64.2 488.3 L65 488.3 L65.8 488.3 L66.6 488.3 L67.4 488.3 L68.2 488.3 L69 488.3 L69.8 488.2 L70.6 488.1 L71.4 488 L72.2 487.9 L73 487.7 L73.8 487.6 L74.6 487.4 L75.4 487.2 L76.2 487 L77 486.9 L77.8 486.7 L78.6 486.6 L79.4 486.4 L80.2 486.3 L81 486.1 L81.8 486 L82.6 485.8 L83.4 485.6 L84.2 485.3 L85 485.1 L85.8 484.7 L86.6 484.4 L87.4 483.9 L88.2 483.4 L89 482.8 L89.8 482.1 L90.6 481.3 L91.4 480.4 L92.2 479.4 L93 478.4 L93.8 477.3 L94.6 476 L95.4 474.3 L96.2 472.3 L97 469.8 L97.8 466.9 L98.6 464.2 L99.4 461.4 L100.2 458.5 L101 455.6 L101.8 452.7 L102.6 449.7 L103.4 446.5 L104.2 443.1 L105 439.4 L105.8 435.5 L106.6 431.4 L107.4 426.9 L108.2 422.3 L109 417.9 L109.8 413.5 L110.6 409 L111.4 404.4 L112.2 399.8 L113 395.2 L113.8 390.6 L114.6 386 L115.4 381.6 L116.2 377.3 L117 373.2 L117.8 369.2 L118.6 365.2 L119.4 361.2 L120.2 357.1 L121 353.1 L121.8 349 L122.6 344.9 L123.4 341.3 L124.2 338.2 L125 335.4 L125.8 332.8 L126.6 330.4 L127.4 328.3 L128.2 326.6 L129 325 L129.8 323.7 L130.6 322.7 L131.4 322.2 L132.2 321.8 L133 321.8 L133.8 322 L134.6 322.2 L135.4 322.5 L136.2 322.9 L137 323.4 L137.8 324 L138.6 324.8 L139.4 325.7 L140.2 326.8 L141 327.9 L141.8 329 L142.6 330.2 L143.4 331.5 L144.2 332.9 L145 334.2 L145.8 335.6 L146.6 337 L147.4 338.4 L148.2 339.8 L149 341.1 L149.8 342.4 L150.6 343.8 L151.4 345.1 L152.2 346.5 L153 347.9 L153.8 349.3 L154.6 350.8 L155.4 352.3 L156.2 353.9 L157 355.5 L157.8 357.1 L158.6 358.8 L159.4 360.5 L160.2 362.2 L161 363.9 L161.8 365.6 L162.6 367.3 L163.4 369.1 L164.2 370.8 L165 372.5 L165.8 374.2 L166.6 375.9 L167.4 377.5 L168.2 379.1 L169 380.6 L169.8 382.2 L170.6 383.7 L171.4 385.2 L172.2 386.7 L173 388.2 L173.8 389.8 L174.6 391.3 L175.4 392.8 L176.2 394.3 L177 395.8 L177.8 397.3 L178.6 398.8 L179.4 400.3 L180.2 401.9 L181 403.5 L181.8 405.2 L182.6 406.9 L183.4 408.5 L184.2 409.9 L185 411 L185.8 412.1 L186.6 413.1 L187.4 414 L188.2 414.8 L189 415.6 L189.8 416.3 L190.6 416.9 L191.4 417.6 L192.2 418.2 L193 418.9 L193.8 419.6 L194.6 420.3 L195.4 421 L196.2 421.7 L197 422.5 L197.8 423.2 L198.6 424 L199.4 424.9 L200.2 425.7 L201 426.6 L201.8 427.4 L202.6 428.2 L203.4 429 L204.2 429.7 L205 430.4 L205.8 431.2 L206.6 431.9 L207.4 432.6 L208.2 433.3 L209 434 L209.8 434.7 L210.6 435.3 L211.4 436 L212.2 436.7 L213 437.4 L213.8 438.1 L214.6 438.8 L215.4 439.5 L216.2 440.2 L217 440.9 L217.8 441.6 L218.6 442.2 L219.4 442.8 L220.2 443.4 L221 444 L221.8 444.5 L222.6 445 L223.4 445.5 L224.2 445.9 L225 446.4 L225.8 446.8 L226.6 447.2 L227.4 447.7 L228.2 448.1 L229 448.6 L229.8 449.1 L230.6 449.6 L231.4 450.2 L232.2 450.7 L233 451.2 L233.8 451.8 L234.6 452.3 L235.4 452.8 L236.2 453.2 L237 453.7 L237.8 454.1 L238.6 454.4 L239.4 454.8 L240.2 455.1 L241 455.4 L241.8 455.7 L242.6 455.9 L243.4 456.2 L244.2 456.5 L245 456.8 L245.8 457 L246.6 457.3 L247.4 457.7 L248.2 458 L249 458.4 L249.8 458.7 L250.6 459.1 L251.4 459.5 L252.2 459.9 L253 460.3 L253.8 460.7 L254.6 461.1 L255.4 461.5 L256.2 461.9 L257 462.3 L257.8 462.6 L258.6 462.9 L259.4 463.2 L260.2 463.5 L261 463.7 L261.8 463.9 L262.6 464.1 L263.4 464.3 L264.2 464.5 L265 464.6 L265.8 464.8 L266.6 465 L267.4 465.2 L268.2 465.4 L269 465.6 L269.8 465.8 L270.6 466.1 L271.4 466.4 L272.2 466.6 L273 466.9 L273.8 467.1 L274.6 467.4 L275.4 467.6 L276.2 467.8 L277 468 L277.8 468.2 L278.6 468.3 L279.4 468.4 L280.2 468.5 L281 468.6 L281.8 468.7 L282.6 468.7 L283.4 468.8 L284.2 468.9 L285 469 L285.8 469.1 L286.6 469.2 L287.4 469.3 L288.2 469.5 L289 469.7 L289.8 469.8 L290.6 470 L291.4 470.3 L292.2 470.5 L293 470.7 L293.8 470.9 L294.6 471.1 L295.4 471.3 L296.2 471.5 L297 471.6 L297.8 471.7 L298.6 471.7 L299.4 471.7 L300.2 471.7 L301 471.6 L301.8 471.5 L302.6 471.4 L303.4 471.3 L304.2 471.2 L305 471.1 L305.8 471.1 L306.6 471 L307.4 471 L308.2 471 L309 471 L309.8 470.9 L310.6 470.9 L311.4 470.8 L312.2 470.7 L313 470.6 L313.8 470.4 L314.6 470.2 L315.4 470 L316.2 469.8 L317 469.5 L317.8 469.3 L318.6 469.1 L319.4 468.9 L320.2 468.8 L321 468.6 L321.8 468.5 L322.6 468.4 L323.4 468.3 L324.2 468.2 L325 468.2 L325.8 468.2 L326.6 468.2 L327.4 468.3 L328.2 468.4 L329 468.5 L329.8 468.6 L330.6 468.7 L331.4 468.8 L332.2 468.9 L333 469 L333.8 469 L334.6 469" stroke="#3c9cf0" stroke-width="1.8"/>
<path d="M62.6 488.7 L63.4 488.6 L64.2 488.5 L65 488.4 L65.8 488.3 L66.6 488.2 L67.4 488 L68.2 487.9 L69 487.7 L69.8 487.6 L70.6 487.4 L71.4 487.3 L72.2 487.2 L73 487.1 L73.8 487.1 L74.6 487 L75.4 487 L76.2 486.9 L77 486.9 L77.8 486.8 L78.6 486.8 L79.4 486.7 L80.2 486.6 L81 486.5 L81.8 486.2 L82.6 486 L83.4 485.6 L84.2 485.3 L85 484.8 L85.8 484.4 L86.6 483.8 L87.4 483.3 L88.2 482.6 L89 481.9 L89.8 481.2 L90.6 480.3 L91.4 479.4 L92.2 478.5 L93 477.6 L93.8 476.6 L94.6 475.3 L95.4 473.7 L96.2 471.8 L97 469.3 L97.8 466.4 L98.6 463.6 L99.4 460.7 L100.2 457.7 L101 454.6 L101.8 451.5 L102.6 448.2 L103.4 444.8 L104.2 441.1 L105 437.1 L105.8 432.9 L106.6 428.4 L107.4 423.7 L108.2 418.9 L109 414.3 L109.8 409.7 L110.6 405.1 L111.4 400.5 L112.2 395.8 L113 391.1 L113.8 386.5 L114.6 381.9 L115.4 377.4 L116.2 373 L117 368.8 L117.8 364.6 L118.6 360.5 L119.4 356.3 L120.2 352 L121 347.7 L121.8 343.3 L122.6 338.9 L123.4 335 L124.2 331.6 L125 328.6 L125.8 325.8 L126.6 323.2 L127.4 321 L128.2 319.2 L129 317.6 L129.8 316.3 L130.6 315.4 L131.4 314.9 L132.2 314.7 L133 314.9 L133.8 315.2 L134.6 315.5 L135.4 316 L136.2 316.4 L137 317 L137.8 317.5 L138.6 318.3 L139.4 319.1 L140.2 320.1 L141 321.1 L141.8 322.1 L142.6 323.2 L143.4 324.4 L144.2 325.6 L145 327 L145.8 328.3 L146.6 329.8 L147.4 331.2 L148.2 332.7 L149 334.1 L149.8 335.6 L150.6 337.1 L151.4 338.6 L152.2 340.2 L153 341.8 L153.8 343.3 L154.6 344.9 L155.4 346.5 L156.2 348.2 L157 349.8 L157.8 351.4 L158.6 353 L159.4 354.6 L160.2 356.2 L161 357.8 L161.8 359.4 L162.6 361.1 L163.4 362.8 L164.2 364.5 L165 366.2 L165.8 367.9 L166.6 369.7 L167.4 371.5 L168.2 373.2 L169 374.9 L169.8 376.6 L170.6 378.4 L171.4 380.1 L172.2 381.8 L173 383.5 L173.8 385.1 L174.6 386.7 L175.4 388.3 L176.2 389.8 L177 391.3 L177.8 392.7 L178.6 394.1 L179.4 395.5 L180.2 397 L181 398.4 L181.8 400 L182.6 401.6 L183.4 403.2 L184.2 404.8 L185 406.2 L185.8 407.5 L186.6 408.6 L187.4 409.7 L188.2 410.8 L189 411.8 L189.8 412.7 L190.6 413.6 L191.4 414.4 L192.2 415.2 L193 415.9 L193.8 416.7 L194.6 417.4 L195.4 418.1 L196.2 418.7 L197 419.3 L197.8 419.9 L198.6 420.6 L199.4 421.3 L200.2 422 L201 422.8 L201.8 423.6 L202.6 424.4 L203.4 425.2 L204.2 426 L205 426.8 L205.8 427.7 L206.6 428.6 L207.4 429.4 L208.2 430.3 L209 431.2 L209.8 432.1 L210.6 432.9 L211.4 433.7 L212.2 434.5 L213 435.2 L213.8 435.9 L214.6 436.6 L215.4 437.2 L216.2 437.8 L217 438.4 L217.8 438.9 L218.6 439.5 L219.4 440 L220.2 440.5 L221 441 L221.8 441.6 L222.6 442.1 L223.4 442.7 L224.2 443.2 L225 443.8 L225.8 444.4 L226.6 445 L227.4 445.6 L228.2 446.2 L229 446.8 L229.8 447.4 L230.6 448 L231.4 448.6 L232.2 449.2 L233 449.7 L233.8 450.1 L234.6 450.6 L235.4 451 L236.2 451.3 L237 451.6 L237.8 451.9 L238.6 452.2 L239.4 452.5 L240.2 452.8 L241 453.1 L241.8 453.4 L242.6 453.7 L243.4 454.1 L244.2 454.5 L245 454.9 L245.8 455.4 L246.6 455.8 L247.4 456.3 L248.2 456.8 L249 457.2 L249.8 457.6 L250.6 458 L251.4 458.4 L252.2 458.8 L253 459.1 L253.8 459.4 L254.6 459.7 L255.4 459.9 L256.2 460.2 L257 460.5 L257.8 460.7 L258.6 461 L259.4 461.3 L260.2 461.6 L261 461.8 L261.8 462.2 L262.6 462.5 L263.4 462.8 L264.2 463.1 L265 463.4 L265.8 463.8 L266.6 464.1 L267.4 464.4 L268.2 464.7 L269 464.9 L269.8 465.2 L270.6 465.4 L271.4 465.5 L272.2 465.7 L273 465.9 L273.8 466 L274.6 466.1 L275.4 466.2 L276.2 466.3 L277 466.4 L277.8 466.5 L278.6 466.7 L279.4 466.8 L280.2 467 L281 467.2 L281.8 467.4 L282.6 467.6 L283.4 467.8 L284.2 468 L285 468.2 L285.8 468.5 L286.6 468.7 L287.4 468.9 L288.2 469 L289 469.2 L289.8 469.3 L290.6 469.4 L291.4 469.5 L292.2 469.6 L293 469.6 L293.8 469.7 L294.6 469.8 L295.4 469.9 L296.2 470 L297 470.1 L297.8 470.2 L298.6 470.3 L299.4 470.4 L300.2 470.5 L301 470.6 L301.8 470.6 L302.6 470.7 L303.4 470.7 L304.2 470.8 L305 470.8 L305.8 470.8 L306.6 470.8 L307.4 470.7 L308.2 470.7 L309 470.6 L309.8 470.5 L310.6 470.3 L311.4 470.1 L312.2 469.8 L313 469.6 L313.8 469.3 L314.6 469 L315.4 468.7 L316.2 468.5 L317 468.2 L317.8 468.1 L318.6 467.9 L319.4 467.8 L320.2 467.8 L321 467.8 L321.8 467.8 L322.6 467.8 L323.4 467.8 L324.2 467.8 L325 467.8 L325.8 467.8 L326.6 467.8 L327.4 467.8 L328.2 467.8 L329 467.7 L329.8 467.7 L330.6 467.6 L331.4 467.6 L332.2 467.6 L333 467.6 L333.8 467.6 L334.6 467.5" stroke="#84dcec" stroke-width="1.5"/>
<path d="M62.6 488.2 L63.4 488.2 L64.2 488.2 L65 488.2 L65.8 488.2 L66.6 488.2 L67.4 488.2 L68.2 488.1 L69 488.1 L69.8 488 L70.6 487.9 L71.4 487.8 L72.2 487.6 L73 487.5 L73.8 487.3 L74.6 487.1 L75.4 486.9 L76.2 486.7 L77 486.6 L77.8 486.4 L78.6 486.3 L79.4 486.1 L80.2 486 L81 485.9 L81.8 485.7 L82.6 485.5 L83.4 485.3 L84.2 485 L85 484.7 L85.8 484.4 L86.6 484 L87.4 483.5 L88.2 482.9 L89 482.3 L89.8 481.6 L90.6 480.7 L91.4 479.7 L92.2 478.6 L93 477.6 L93.8 476.4 L94.6 475 L95.4 473.3 L96.2 471.2 L97 468.5 L97.8 465.5 L98.6 462.6 L99.4 459.6 L100.2 456.7 L101 453.6 L101.8 450.5 L102.6 447.3 L103.4 443.9 L104.2 440.3 L105 436.4 L105.8 432.2 L106.6 427.8 L107.4 423.1 L108.2 418.2 L109 413.5 L109.8 408.8 L110.6 404.1 L111.4 399.3 L112.2 394.4 L113 389.5 L113.8 384.6 L114.6 379.8 L115.4 375.1 L116.2 370.6 L117 366.2 L117.8 362 L118.6 357.8 L119.4 353.5 L120.2 349.3 L121 345 L121.8 340.6 L122.6 336.3 L123.4 332.5 L124.2 329.2 L125 326.2 L125.8 323.5 L126.6 320.9 L127.4 318.7 L128.2 316.8 L129 315.1 L129.8 313.7 L130.6 312.7 L131.4 312.1 L132.2 311.8 L133 311.8 L133.8 312 L134.6 312.2 L135.4 312.6 L136.2 313 L137 313.5 L137.8 314.1 L138.6 314.9 L139.4 315.9 L140.2 316.9 L141 318.1 L141.8 319.3 L142.6 320.5 L143.4 321.8 L144.2 323.2 L145 324.6 L145.8 326 L146.6 327.5 L147.4 328.9 L148.2 330.3 L149 331.7 L149.8 333.1 L150.6 334.5 L151.4 335.9 L152.2 337.3 L153 338.8 L153.8 340.3 L154.6 341.8 L155.4 343.4 L156.2 345 L157 346.7 L157.8 348.4 L158.6 350.1 L159.4 351.9 L160.2 353.6 L161 355.4 L161.8 357.2 L162.6 358.9 L163.4 360.7 L164.2 362.5 L165 364.3 L165.8 366 L166.6 367.8 L167.4 369.5 L168.2 371.1 L169 372.7 L169.8 374.4 L170.6 376 L171.4 377.6 L172.2 379.2 L173 380.8 L173.8 382.4 L174.6 384 L175.4 385.7 L176.2 387.2 L177 388.8 L177.8 390.4 L178.6 392 L179.4 393.5 L180.2 395.1 L181 396.7 L181.8 398.3 L182.6 400 L183.4 401.8 L184.2 403.4 L185 404.9 L185.8 406.1 L186.6 407.2 L187.4 408.3 L188.2 409.2 L189 410.1 L189.8 410.9 L190.6 411.7 L191.4 412.4 L192.2 413.2 L193 413.9 L193.8 414.7 L194.6 415.4 L195.4 416.2 L196.2 417 L197 417.7 L197.8 418.5 L198.6 419.3 L199.4 420.1 L200.2 420.9 L201 421.8 L201.8 422.7 L202.6 423.5 L203.4 424.3 L204.2 425.1 L205 425.9 L205.8 426.7 L206.6 427.4 L207.4 428.2 L208.2 428.9 L209 429.7 L209.8 430.5 L210.6 431.2 L211.4 432 L212.2 432.8 L213 433.5 L213.8 434.3 L214.6 435.1 L215.4 435.8 L216.2 436.6 L217 437.3 L217.8 438 L218.6 438.7 L219.4 439.3 L220.2 439.9 L221 440.5 L221.8 441.1 L222.6 441.6 L223.4 442.1 L224.2 442.6 L225 443.1 L225.8 443.5 L226.6 444 L227.4 444.5 L228.2 445 L229 445.5 L229.8 446.1 L230.6 446.6 L231.4 447.2 L232.2 447.8 L233 448.4 L233.8 449 L234.6 449.5 L235.4 450.1 L236.2 450.6 L237 451 L237.8 451.5 L238.6 451.9 L239.4 452.2 L240.2 452.5 L241 452.9 L241.8 453.1 L242.6 453.4 L243.4 453.7 L244.2 454 L245 454.3 L245.8 454.6 L246.6 454.9 L247.4 455.2 L248.2 455.6 L249 456 L249.8 456.4 L250.6 456.9 L251.4 457.3 L252.2 457.7 L253 458.2 L253.8 458.6 L254.6 459 L255.4 459.4 L256.2 459.8 L257 460.2 L257.8 460.6 L258.6 460.9 L259.4 461.2 L260.2 461.5 L261 461.7 L261.8 461.9 L262.6 462.2 L263.4 462.4 L264.2 462.5 L265 462.7 L265.8 462.9 L266.6 463.2 L267.4 463.4 L268.2 463.6 L269 463.9 L269.8 464.1 L270.6 464.4 L271.4 464.7 L272.2 465 L273 465.3 L273.8 465.5 L274.6 465.8 L275.4 466 L276.2 466.2 L277 466.4 L277.8 466.6 L278.6 466.7 L279.4 466.8 L280.2 466.9 L281 467 L281.8 467.1 L282.6 467.2 L283.4 467.3 L284.2 467.4 L285 467.5 L285.8 467.6 L286.6 467.7 L287.4 467.9 L288.2 468.1 L289 468.3 L289.8 468.5 L290.6 468.7 L291.4 468.9 L292.2 469.1 L293 469.3 L293.8 469.5 L294.6 469.7 L295.4 469.9 L296.2 470.1 L297 470.2 L297.8 470.3 L298.6 470.4 L299.4 470.4 L300.2 470.4 L301 470.4 L301.8 470.3 L302.6 470.2 L303.4 470.1 L304.2 470.1 L305 470 L305.8 470 L306.6 469.9 L307.4 469.9 L308.2 469.9 L309 469.9 L309.8 469.9 L310.6 469.9 L311.4 469.8 L312.2 469.7 L313 469.6 L313.8 469.4 L314.6 469.2 L315.4 468.9 L316.2 468.7 L317 468.4 L317.8 468.2 L318.6 467.9 L319.4 467.7 L320.2 467.5 L321 467.3 L321.8 467.2 L322.6 467.1 L323.4 467 L324.2 466.9 L325 466.9 L325.8 466.9 L326.6 466.9 L327.4 467 L328.2 467.1 L329 467.1 L329.8 467.2 L330.6 467.3 L331.4 467.4 L332.2 467.5 L333 467.6 L333.8 467.7 L334.6 467.6" stroke="#38a6ac" stroke-width="1.8"/>
<path d="M62.6 488.1 L63.4 488.1 L64.2 488.1 L65 488.1 L65.8 488.1 L66.6 488.1 L67.4 488.1 L68.2 488.1 L69 488 L69.8 487.9 L70.6 487.8 L71.4 487.7 L72.2 487.5 L73 487.3 L73.8 487.2 L74.6 487 L75.4 486.8 L76.2 486.6 L77 486.4 L77.8 486.3 L78.6 486.2 L79.4 486 L80.2 485.9 L81 485.8 L81.8 485.6 L82.6 485.4 L83.4 485.2 L84.2 484.9 L85 484.6 L85.8 484.3 L86.6 483.8 L87.4 483.3 L88.2 482.7 L89 482.1 L89.8 481.3 L90.6 480.4 L91.4 479.4 L92.2 478.3 L93 477.2 L93.8 476.1 L94.6 474.6 L95.4 472.8 L96.2 470.7 L97 468 L97.8 464.9 L98.6 462 L99.4 459 L100.2 455.9 L101 452.8 L101.8 449.6 L102.6 446.4 L103.4 442.9 L104.2 439.2 L105 435.2 L105.8 430.9 L106.6 426.4 L107.4 421.6 L108.2 416.6 L109 411.8 L109.8 407 L110.6 402.2 L111.4 397.2 L112.2 392.2 L113 387.2 L113.8 382.3 L114.6 377.4 L115.4 372.6 L116.2 368 L117 363.5 L117.8 359.2 L118.6 354.9 L119.4 350.6 L120.2 346.2 L121 341.8 L121.8 337.4 L122.6 332.9 L123.4 329.1 L124.2 325.7 L125 322.6 L125.8 319.8 L126.6 317.2 L127.4 314.9 L128.2 313 L129 311.2 L129.8 309.8 L130.6 308.8 L131.4 308.2 L132.2 307.8 L133 307.8 L133.8 308 L134.6 308.3 L135.4 308.7 L136.2 309.1 L137 309.6 L137.8 310.3 L138.6 311.1 L139.4 312 L140.2 313.1 L141 314.3 L141.8 315.5 L142.6 316.7 L143.4 318 L144.2 319.4 L145 320.8 L145.8 322.2 L146.6 323.7 L147.4 325.1 L148.2 326.6 L149 328 L149.8 329.4 L150.6 330.8 L151.4 332.2 L152.2 333.7 L153 335.2 L153.8 336.7 L154.6 338.3 L155.4 339.9 L156.2 341.5 L157 343.2 L157.8 345 L158.6 346.7 L159.4 348.5 L160.2 350.3 L161 352 L161.8 353.8 L162.6 355.6 L163.4 357.4 L164.2 359.2 L165 361 L165.8 362.8 L166.6 364.5 L167.4 366.2 L168.2 367.9 L169 369.6 L169.8 371.2 L170.6 372.9 L171.4 374.5 L172.2 376.2 L173 377.8 L173.8 379.5 L174.6 381.2 L175.4 382.8 L176.2 384.5 L177 386.1 L177.8 387.7 L178.6 389.2 L179.4 390.8 L180.2 392.4 L181 394 L181.8 395.6 L182.6 397.3 L183.4 399 L184.2 400.7 L185 402.3 L185.8 403.7 L186.6 404.9 L187.4 406 L188.2 407 L189 407.9 L189.8 408.8 L190.6 409.6 L191.4 410.4 L192.2 411.2 L193 411.9 L193.8 412.7 L194.6 413.5 L195.4 414.3 L196.2 415.1 L197 415.8 L197.8 416.6 L198.6 417.4 L199.4 418.2 L200.2 419.1 L201 419.9 L201.8 420.8 L202.6 421.6 L203.4 422.5 L204.2 423.3 L205 424.1 L205.8 424.9 L206.6 425.6 L207.4 426.4 L208.2 427.2 L209 428 L209.8 428.8 L210.6 429.6 L211.4 430.4 L212.2 431.2 L213 432 L213.8 432.8 L214.6 433.6 L215.4 434.3 L216.2 435.1 L217 435.9 L217.8 436.6 L218.6 437.3 L219.4 437.9 L220.2 438.6 L221 439.2 L221.8 439.7 L222.6 440.2 L223.4 440.8 L224.2 441.3 L225 441.7 L225.8 442.2 L226.6 442.7 L227.4 443.2 L228.2 443.7 L229 444.3 L229.8 444.8 L230.6 445.4 L231.4 446 L232.2 446.6 L233 447.3 L233.8 447.9 L234.6 448.5 L235.4 449 L236.2 449.5 L237 450 L237.8 450.4 L238.6 450.8 L239.4 451.2 L240.2 451.5 L241 451.8 L241.8 452.1 L242.6 452.4 L243.4 452.7 L244.2 453 L245 453.3 L245.8 453.6 L246.6 453.9 L247.4 454.3 L248.2 454.7 L249 455.1 L249.8 455.5 L250.6 456 L251.4 456.4 L252.2 456.9 L253 457.3 L253.8 457.8 L254.6 458.2 L255.4 458.6 L256.2 459 L257 459.4 L257.8 459.7 L258.6 460.1 L259.4 460.4 L260.2 460.6 L261 460.9 L261.8 461.1 L262.6 461.4 L263.4 461.6 L264.2 461.8 L265 462 L265.8 462.2 L266.6 462.4 L267.4 462.7 L268.2 462.9 L269 463.2 L269.8 463.5 L270.6 463.8 L271.4 464.1 L272.2 464.4 L273 464.6 L273.8 464.9 L274.6 465.2 L275.4 465.4 L276.2 465.6 L277 465.8 L277.8 465.9 L278.6 466.1 L279.4 466.2 L280.2 466.3 L281 466.4 L281.8 466.5 L282.6 466.6 L283.4 466.7 L284.2 466.8 L285 466.9 L285.8 467 L286.6 467.2 L287.4 467.4 L288.2 467.5 L289 467.7 L289.8 468 L290.6 468.2 L291.4 468.4 L292.2 468.6 L293 468.8 L293.8 469 L294.6 469.2 L295.4 469.4 L296.2 469.5 L297 469.7 L297.8 469.8 L298.6 469.9 L299.4 469.9 L300.2 469.9 L301 469.9 L301.8 469.8 L302.6 469.7 L303.4 469.7 L304.2 469.6 L305 469.6 L305.8 469.5 L306.6 469.5 L307.4 469.5 L308.2 469.5 L309 469.5 L309.8 469.5 L310.6 469.5 L311.4 469.4 L312.2 469.3 L313 469.2 L313.8 469 L314.6 468.8 L315.4 468.5 L316.2 468.3 L317 468 L317.8 467.7 L318.6 467.4 L319.4 467.2 L320.2 467 L321 466.8 L321.8 466.7 L322.6 466.6 L323.4 466.5 L324.2 466.4 L325 466.4 L325.8 466.4 L326.6 466.4 L327.4 466.5 L328.2 466.6 L329 466.6 L329.8 466.7 L330.6 466.8 L331.4 466.9 L332.2 467 L333 467 L333.8 467.1 L334.6 467.1" stroke="#2a8a8a" stroke-width="1.8"/>
<path d="M62.6 488.4 L63.4 488.3 L64.2 488.2 L65 488.1 L65.8 488 L66.6 487.8 L67.4 487.7 L68.2 487.5 L69 487.4 L69.8 487.2 L70.6 487.1 L71.4 487 L72.2 486.8 L73 486.7 L73.8 486.7 L74.6 486.6 L75.4 486.5 L76.2 486.5 L77 486.4 L77.8 486.4 L78.6 486.3 L79.4 486.2 L80.2 486.1 L81 485.9 L81.8 485.7 L82.6 485.4 L83.4 485.1 L84.2 484.7 L85 484.2 L85.8 483.7 L86.6 483.1 L87.4 482.5 L88.2 481.8 L89 481.1 L89.8 480.3 L90.6 479.3 L91.4 478.3 L92.2 477.3 L93 476.3 L93.8 475.1 L94.6 473.7 L95.4 472 L96.2 469.9 L97 467.1 L97.8 464 L98.6 460.9 L99.4 457.7 L100.2 454.5 L101 451.1 L101.8 447.6 L102.6 444.1 L103.4 440.3 L104.2 436.3 L105 431.9 L105.8 427.3 L106.6 422.5 L107.4 417.3 L108.2 412 L109 407 L109.8 401.9 L110.6 396.9 L111.4 391.8 L112.2 386.6 L113 381.5 L113.8 376.4 L114.6 371.4 L115.4 366.5 L116.2 361.7 L117 357 L117.8 352.5 L118.6 348 L119.4 343.3 L120.2 338.6 L121 333.9 L121.8 329.1 L122.6 324.3 L123.4 320.1 L124.2 316.4 L125 313.1 L125.8 310 L126.6 307.2 L127.4 304.8 L128.2 302.8 L129 301 L129.8 299.6 L130.6 298.6 L131.4 298.1 L132.2 297.9 L133 298 L133.8 298.3 L134.6 298.7 L135.4 299.1 L136.2 299.6 L137 300.2 L137.8 300.8 L138.6 301.5 L139.4 302.4 L140.2 303.4 L141 304.5 L141.8 305.6 L142.6 306.7 L143.4 307.9 L144.2 309.2 L145 310.6 L145.8 312.1 L146.6 313.6 L147.4 315.1 L148.2 316.7 L149 318.2 L149.8 319.8 L150.6 321.4 L151.4 323 L152.2 324.6 L153 326.3 L153.8 327.9 L154.6 329.6 L155.4 331.3 L156.2 333 L157 334.7 L157.8 336.4 L158.6 338.1 L159.4 339.8 L160.2 341.5 L161 343.2 L161.8 344.9 L162.6 346.7 L163.4 348.4 L164.2 350.2 L165 352 L165.8 353.9 L166.6 355.8 L167.4 357.7 L168.2 359.6 L169 361.4 L169.8 363.3 L170.6 365.1 L171.4 367 L172.2 368.8 L173 370.6 L173.8 372.4 L174.6 374.1 L175.4 375.8 L176.2 377.5 L177 379.1 L177.8 380.7 L178.6 382.2 L179.4 383.7 L180.2 385.2 L181 386.7 L181.8 388.3 L182.6 389.8 L183.4 391.5 L184.2 393.3 L185 395.1 L185.8 396.9 L186.6 398.4 L187.4 399.8 L188.2 401.1 L189 402.3 L189.8 403.4 L190.6 404.5 L191.4 405.5 L192.2 406.4 L193 407.3 L193.8 408.1 L194.6 408.9 L195.4 409.7 L196.2 410.4 L197 411.1 L197.8 411.8 L198.6 412.4 L199.4 413.1 L200.2 413.9 L201 414.6 L201.8 415.5 L202.6 416.3 L203.4 417.2 L204.2 418.1 L205 419.1 L205.8 420 L206.6 421 L207.4 421.9 L208.2 422.9 L209 423.8 L209.8 424.8 L210.6 425.8 L211.4 426.7 L212.2 427.5 L213 428.4 L213.8 429.2 L214.6 429.9 L215.4 430.7 L216.2 431.4 L217 432 L217.8 432.7 L218.6 433.3 L219.4 433.9 L220.2 434.5 L221 435.1 L221.8 435.7 L222.6 436.3 L223.4 436.9 L224.2 437.6 L225 438.2 L225.8 438.8 L226.6 439.5 L227.4 440.2 L228.2 440.8 L229 441.5 L229.8 442.1 L230.6 442.8 L231.4 443.4 L232.2 444 L233 444.6 L233.8 445.2 L234.6 445.7 L235.4 446.2 L236.2 446.6 L237 447 L237.8 447.4 L238.6 447.8 L239.4 448.1 L240.2 448.4 L241 448.8 L241.8 449.1 L242.6 449.5 L243.4 449.9 L244.2 450.3 L245 450.7 L245.8 451.2 L246.6 451.7 L247.4 452.2 L248.2 452.7 L249 453.1 L249.8 453.6 L250.6 454.1 L251.4 454.5 L252.2 454.9 L253 455.3 L253.8 455.6 L254.6 456 L255.4 456.3 L256.2 456.6 L257 456.9 L257.8 457.2 L258.6 457.5 L259.4 457.8 L260.2 458.1 L261 458.4 L261.8 458.8 L262.6 459.2 L263.4 459.5 L264.2 459.9 L265 460.3 L265.8 460.6 L266.6 461 L267.4 461.3 L268.2 461.6 L269 461.9 L269.8 462.2 L270.6 462.4 L271.4 462.6 L272.2 462.8 L273 463 L273.8 463.2 L274.6 463.3 L275.4 463.4 L276.2 463.6 L277 463.7 L277.8 463.8 L278.6 464 L279.4 464.2 L280.2 464.3 L281 464.6 L281.8 464.8 L282.6 465 L283.4 465.2 L284.2 465.5 L285 465.7 L285.8 466 L286.6 466.2 L287.4 466.4 L288.2 466.6 L289 466.7 L289.8 466.9 L290.6 467 L291.4 467.1 L292.2 467.2 L293 467.3 L293.8 467.4 L294.6 467.4 L295.4 467.5 L296.2 467.7 L297 467.8 L297.8 467.9 L298.6 468.1 L299.4 468.2 L300.2 468.4 L301 468.5 L301.8 468.6 L302.6 468.7 L303.4 468.8 L304.2 468.8 L305 468.9 L305.8 468.9 L306.6 468.9 L307.4 468.8 L308.2 468.8 L309 468.7 L309.8 468.6 L310.6 468.4 L311.4 468.3 L312.2 468.1 L313 467.9 L313.8 467.6 L314.6 467.3 L315.4 467 L316.2 466.7 L317 466.5 L317.8 466.2 L318.6 466 L319.4 465.9 L320.2 465.7 L321 465.7 L321.8 465.6 L322.6 465.6 L323.4 465.6 L324.2 465.6 L325 465.6 L325.8 465.6 L326.6 465.5 L327.4 465.5 L328.2 465.5 L329 465.4 L329.8 465.4 L330.6 465.3 L331.4 465.3 L332.2 465.2 L333 465.2 L333.8 465.2 L334.6 465.2" stroke="#1e5a5a" stroke-width="2.6"/>
</g>
<path d="M130.3 397.3 L130.3 322.5 L127.3 322.5 L133.3 316.2 L139.6 322.5 L136.6 322.5 L136.6 397.3 Z" fill="none" stroke="#cc2a2a" stroke-width="1.5"/>
<text transform="translate(137.8,422.5) rotate(-90) scale(0.87,1)" font-size="17" text-anchor="middle" fill="#111" stroke="#111" stroke-width="0.35">[GMP]</text>
<rect x="62.6" y="276.4" width="272.8" height="215.1" fill="none" stroke="#000" stroke-width="2.6" stroke-linejoin="round"/>
<line x1="57.5" y1="491.5" x2="62.6" y2="491.5" stroke="#000" stroke-width="2.4"/>
<text x="54.7" y="495.8" font-size="12" text-anchor="end" font-weight="bold" fill="#000" stroke="#000" >0.0</text>
<line x1="57.5" y1="393.6" x2="62.6" y2="393.6" stroke="#000" stroke-width="2.4"/>
<text x="54.7" y="397.9" font-size="12" text-anchor="end" font-weight="bold" fill="#000" stroke="#000" >0.5</text>
<line x1="57.5" y1="295.7" x2="62.6" y2="295.7" stroke="#000" stroke-width="2.4"/>
<text x="54.7" y="300" font-size="12" text-anchor="end" font-weight="bold" fill="#000" stroke="#000" >1.0</text>
<line x1="91.6" y1="491.5" x2="91.6" y2="496.4" stroke="#000" stroke-width="2.4"/>
<text x="91.6" y="508.3" font-size="12" text-anchor="middle" font-weight="bold" fill="#000" stroke="#000" >450</text>
<line x1="140.2" y1="491.5" x2="140.2" y2="496.4" stroke="#000" stroke-width="2.4"/>
<text x="140.2" y="508.3" font-size="12" text-anchor="middle" font-weight="bold" fill="#000" stroke="#000" >500</text>
<line x1="188.8" y1="491.5" x2="188.8" y2="496.4" stroke="#000" stroke-width="2.4"/>
<text x="188.8" y="508.3" font-size="12" text-anchor="middle" font-weight="bold" fill="#000" stroke="#000" >550</text>
<line x1="237.4" y1="491.5" x2="237.4" y2="496.4" stroke="#000" stroke-width="2.4"/>
<text x="237.4" y="508.3" font-size="12" text-anchor="middle" font-weight="bold" fill="#000" stroke="#000" >600</text>
<line x1="286" y1="491.5" x2="286" y2="496.4" stroke="#000" stroke-width="2.4"/>
<text x="286" y="508.3" font-size="12" text-anchor="middle" font-weight="bold" fill="#000" stroke="#000" >650</text>
<line x1="334.6" y1="491.5" x2="334.6" y2="496.4" stroke="#000" stroke-width="2.4"/>
<text x="334.6" y="508.3" font-size="12" text-anchor="middle" font-weight="bold" fill="#000" stroke="#000" >700</text>
<text x="199.3" y="530.5" font-size="14.5" text-anchor="middle" font-weight="bold" fill="#000" stroke="#000" >Wavelength (nm)</text>
<text transform="translate(25.3,375.7) rotate(-90)" font-size="14.2" text-anchor="middle" font-weight="bold" fill="#000" stroke="#000">FL Intensity x 10<tspan font-size="9" dy="-6">5</tspan><tspan dy="6"> (a.u.)</tspan></text>
<text x="0" y="294.9" font-size="33" text-anchor="start" font-weight="bold" fill="#000" stroke="#000" >c</text>
<text x="264.6" y="296.5" font-size="12" text-anchor="start" font-weight="bold" fill="#000" stroke="#000" >[GMP] (μM)</text>
<line x1="265.4" y1="306.6" x2="293.6" y2="306.6" stroke="#2d6464" stroke-width="3" stroke-linecap="round"/>
<text x="297.8" y="310.8" font-size="12" text-anchor="start" font-weight="bold" fill="#000" stroke="#000" >150</text>
<path d="M276 329.1 L276 314.5 L273.6 314.5 L278.6 309.4 L283.3 314.5 L281.2 314.5 L281.2 329.1 Z" fill="url(#garrC)"/>
<line x1="265.4" y1="336" x2="293.6" y2="336" stroke="#bff4f8" stroke-width="3" stroke-linecap="round"/>
<text x="298.5" y="340.3" font-size="12" text-anchor="start" font-weight="bold" fill="#000" stroke="#000" >0</text>
<rect x="409.6" y="277.7" width="272" height="215.8" fill="#c0c0c0"/>
<line x1="409.6" y1="491.6" x2="681.6" y2="491.6" stroke="#d6d6d6" stroke-width="1.2"/>
<circle cx="417.5" cy="469.1" r="3.5" fill="url(#bdot)"/>
<circle cx="434.5" cy="450.6" r="3.5" fill="url(#bdot)"/>
<circle cx="468.8" cy="433.3" r="3.5" fill="url(#bdot)"/>
<circle cx="502.8" cy="419" r="3.5" fill="url(#bdot)"/>
<circle cx="536.8" cy="399.8" r="3.5" fill="url(#bdot)"/>
<circle cx="571.2" cy="388.3" r="3.5" fill="url(#bdot)"/>
<circle cx="605.1" cy="366.8" r="3.5" fill="url(#bdot)"/>
<circle cx="639.3" cy="357.3" r="3.5" fill="url(#bdot)"/>
<circle cx="673.2" cy="334" r="3.5" fill="url(#bdot)"/>
<line x1="417.5" y1="462.6" x2="673.2" y2="336.3" stroke="#f2f57a" stroke-width="1.9"/>
<rect x="409.6" y="277.7" width="272" height="215.8" fill="none" stroke="#000" stroke-width="2.6" stroke-linejoin="round"/>
<line x1="404" y1="493.5" x2="409.6" y2="493.5" stroke="#000" stroke-width="2.4"/>
<text x="401.2" y="497.8" font-size="12" text-anchor="end" font-weight="bold" fill="#000" stroke="#000" >20</text>
<line x1="404" y1="421.6" x2="409.6" y2="421.6" stroke="#000" stroke-width="2.4"/>
<text x="401.2" y="425.9" font-size="12" text-anchor="end" font-weight="bold" fill="#000" stroke="#000" >25</text>
<line x1="404" y1="349.6" x2="409.6" y2="349.6" stroke="#000" stroke-width="2.4"/>
<text x="401.2" y="353.9" font-size="12" text-anchor="end" font-weight="bold" fill="#000" stroke="#000" >30</text>
<line x1="404" y1="277.7" x2="409.6" y2="277.7" stroke="#000" stroke-width="2.4"/>
<text x="401.2" y="282" font-size="12" text-anchor="end" font-weight="bold" fill="#000" stroke="#000" >35</text>
<line x1="417.9" y1="493.5" x2="417.9" y2="498.2" stroke="#000" stroke-width="2.4"/>
<text x="417.9" y="510" font-size="12" text-anchor="middle" font-weight="bold" fill="#000" stroke="#000" >0</text>
<line x1="452" y1="493.5" x2="452" y2="498.2" stroke="#000" stroke-width="2.4"/>
<text x="452" y="510" font-size="12" text-anchor="middle" font-weight="bold" fill="#000" stroke="#000" >20</text>
<line x1="486" y1="493.5" x2="486" y2="498.2" stroke="#000" stroke-width="2.4"/>
<text x="486" y="510" font-size="12" text-anchor="middle" font-weight="bold" fill="#000" stroke="#000" >40</text>
<line x1="520.1" y1="493.5" x2="520.1" y2="498.2" stroke="#000" stroke-width="2.4"/>
<text x="520.1" y="510" font-size="12" text-anchor="middle" font-weight="bold" fill="#000" stroke="#000" >60</text>
<line x1="554.1" y1="493.5" x2="554.1" y2="498.2" stroke="#000" stroke-width="2.4"/>
<text x="554.1" y="510" font-size="12" text-anchor="middle" font-weight="bold" fill="#000" stroke="#000" >80</text>
<line x1="588.2" y1="493.5" x2="588.2" y2="498.2" stroke="#000" stroke-width="2.4"/>
<text x="588.2" y="510" font-size="12" text-anchor="middle" font-weight="bold" fill="#000" stroke="#000" >100</text>
<line x1="622.3" y1="493.5" x2="622.3" y2="498.2" stroke="#000" stroke-width="2.4"/>
<text x="622.3" y="510" font-size="12" text-anchor="middle" font-weight="bold" fill="#000" stroke="#000" >120</text>
<line x1="656.3" y1="493.5" x2="656.3" y2="498.2" stroke="#000" stroke-width="2.4"/>
<text x="656.3" y="510" font-size="12" text-anchor="middle" font-weight="bold" fill="#000" stroke="#000" >140</text>
<text x="545" y="533" font-size="14" text-anchor="middle" font-weight="bold" fill="#000" stroke="#000" >[GMP] (μM)</text>
<text transform="translate(379.7,385.3) rotate(-90)" font-size="14" text-anchor="middle" font-weight="bold" fill="#000" stroke="#000">FL/FL<tspan font-size="9" dy="3">0</tspan></text>
<text x="347.4" y="295.3" font-size="33.5" text-anchor="start" font-weight="bold" fill="#000" stroke="#000" >d</text>
<circle cx="588.3" cy="287.7" r="3.4" fill="url(#bdot)"/>
<text x="605.6" y="291" font-size="12" text-anchor="start" font-weight="bold" fill="#222" stroke="#222" >FL/FL<tspan font-size="8" dy="3">0</tspan></text>
<line x1="574.2" y1="306" x2="602.9" y2="306" stroke="#f2f57a" stroke-width="1.9"/>
<text x="605.6" y="309.6" font-size="12.2" text-anchor="start"  fill="#222" stroke="none" >Linear Fit</text>
<text x="605.6" y="325.7" font-size="12.2" text-anchor="start"  fill="#222" stroke="none" >R<tspan font-size="8" dy="-5">2</tspan><tspan dy="5"> = 0.99312</tspan></text>
</svg></body></html>
